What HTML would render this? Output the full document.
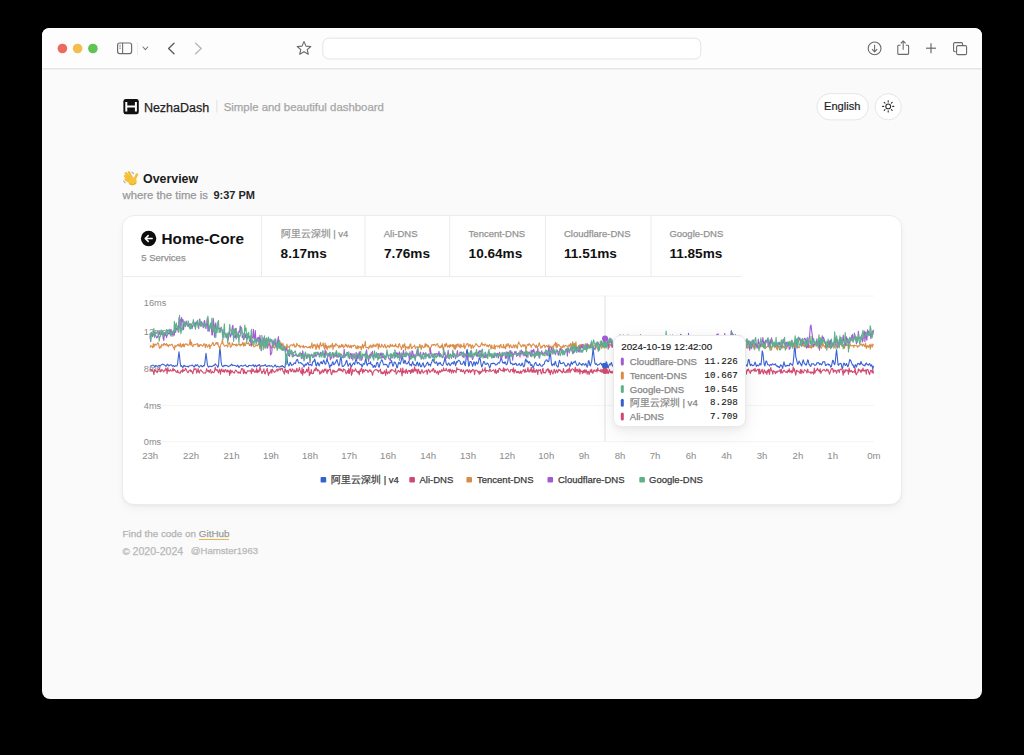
<!DOCTYPE html>
<html><head><meta charset="utf-8">
<style>
*{box-sizing:border-box;margin:0;padding:0}
html,body{width:1024px;height:755px;overflow:hidden;background:#000}
body{font-family:"Liberation Sans",sans-serif;position:relative}
.win{position:absolute;left:42px;top:28px;width:940px;height:671px;border-radius:8px;background:#fafafa;overflow:hidden}
.tb{position:absolute;left:0;top:0;width:940px;height:40px;background:#fdfdfd;border-bottom:1px solid #e4e4e4}
.abs{position:absolute;white-space:nowrap}
.t{position:absolute;white-space:nowrap;line-height:1;-webkit-text-stroke-width:0.25px}
.b{font-weight:bold;-webkit-text-stroke-width:0}
svg.full{position:absolute;left:0;top:0}
</style></head>
<body>
<div class="win"></div>
<svg class="full" width="1024" height="755" viewBox="0 0 1024 755">
  <!-- toolbar -->
  <path d="M42,68 V36 Q42,28 50,28 H974 Q982,28 982,36 V68 Z" fill="#fdfdfd"/>
  <line x1="42" y1="68.8" x2="982" y2="68.8" stroke="#e6e6e6" stroke-width="1.4"/>
  <circle cx="62.4" cy="48.5" r="4.8" fill="#ec6b5f"/>
  <circle cx="77.6" cy="48.5" r="4.8" fill="#f3bd4f"/>
  <circle cx="92.9" cy="48.5" r="4.8" fill="#5fc454"/>
  <!-- sidebar icon -->
  <rect x="117.6" y="43" width="14" height="10.6" rx="2" fill="none" stroke="#6e6e6e" stroke-width="1.2"/>
  <line x1="122.6" y1="43" x2="122.6" y2="53.6" stroke="#6e6e6e" stroke-width="1.1"/>
  <line x1="119.2" y1="45.2" x2="121" y2="45.2" stroke="#8a8a8a" stroke-width="0.7"/>
  <line x1="119.2" y1="46.8" x2="121" y2="46.8" stroke="#8a8a8a" stroke-width="0.7"/>
  <line x1="119.2" y1="48.4" x2="121" y2="48.4" stroke="#8a8a8a" stroke-width="0.7"/>
  <line x1="137.4" y1="42" x2="137.4" y2="55" stroke="#ececec" stroke-width="1"/>
  <polyline points="143,47 145.4,49.6 147.8,47" fill="none" stroke="#777" stroke-width="1.1" stroke-linecap="round" stroke-linejoin="round"/>
  <polyline points="174,43.2 168.6,48.5 174,53.8" fill="none" stroke="#5e5e5e" stroke-width="1.4" stroke-linecap="round" stroke-linejoin="round"/>
  <polyline points="195.6,43.2 201.2,48.5 195.6,53.8" fill="none" stroke="#b8b8b8" stroke-width="1.4" stroke-linecap="round" stroke-linejoin="round"/>
  <!-- star -->
  <path d="M304,41.6 L306,46.1 L310.8,46.5 L307.2,49.6 L308.3,54.2 L304,51.8 L299.7,54.2 L300.8,49.6 L297.2,46.5 L302,46.1 Z" fill="none" stroke="#666" stroke-width="1.1" stroke-linejoin="round"/>
  <!-- url bar -->
  <rect x="322.8" y="38.2" width="378" height="20.8" rx="6" fill="#fff" stroke="#e4e4e4" stroke-width="1"/>
  <!-- download -->
  <circle cx="874.6" cy="48.4" r="6.4" fill="none" stroke="#6a6a6a" stroke-width="1.1"/>
  <polyline points="874.6,44.8 874.6,51.6" stroke="#6a6a6a" stroke-width="1.1" fill="none"/>
  <polyline points="872,49.2 874.6,51.8 877.2,49.2" stroke="#6a6a6a" stroke-width="1.1" fill="none" stroke-linejoin="round"/>
  <!-- share -->
  <path d="M900.6,45.2 H898.6 Q897.8,45.2 897.8,46 V53.6 Q897.8,54.4 898.6,54.4 H907.8 Q908.6,54.4 908.6,53.6 V46 Q908.6,45.2 907.8,45.2 H905.8" fill="none" stroke="#6a6a6a" stroke-width="1.1"/>
  <line x1="903.2" y1="41.2" x2="903.2" y2="49.8" stroke="#6a6a6a" stroke-width="1.1"/>
  <polyline points="900.8,43.4 903.2,41 905.6,43.4" fill="none" stroke="#6a6a6a" stroke-width="1.1" stroke-linejoin="round"/>
  <!-- plus -->
  <line x1="926" y1="48.2" x2="936" y2="48.2" stroke="#6a6a6a" stroke-width="1.2"/>
  <line x1="931" y1="43.2" x2="931" y2="53.2" stroke="#6a6a6a" stroke-width="1.2"/>
  <!-- tabs -->
  <path d="M955.6,51.6 H954.8 Q953.6,51.6 953.6,50.4 V43.8 Q953.6,42.6 954.8,42.6 H961.4 Q962.6,42.6 962.6,43.8 V45" fill="none" stroke="#6a6a6a" stroke-width="1.1"/>
  <rect x="956.6" y="45.6" width="10" height="9" rx="1.4" fill="none" stroke="#6a6a6a" stroke-width="1.1"/>
</svg>

<!-- header -->
<svg class="full" width="1024" height="755" viewBox="0 0 1024 755">
  <rect x="123.4" y="98.9" width="15.4" height="15.4" rx="2.4" fill="#111"/>
  <path d="M126.3,102 V111.4 M135.9,102 V111.4 M126.3,106.6 H135.9" stroke="#fff" stroke-width="2" fill="none"/>
  <line x1="216.8" y1="100.3" x2="216.8" y2="112.6" stroke="#e2e2e2" stroke-width="1"/>
  <rect x="816.9" y="93.7" width="51.4" height="26.2" rx="13.1" fill="#fff" stroke="#e6e6e6" stroke-width="1"/>
  <circle cx="888.2" cy="106.8" r="13.1" fill="#fff" stroke="#e6e6e6" stroke-width="1"/>
  <g stroke="#2a2a2a" stroke-width="1.1" stroke-linecap="round">
    <circle cx="888.2" cy="106.4" r="2.4" fill="none"/>
    <line x1="888.2" y1="100.8" x2="888.2" y2="101.9"/>
    <line x1="888.2" y1="110.9" x2="888.2" y2="112"/>
    <line x1="882.6" y1="106.4" x2="883.7" y2="106.4"/>
    <line x1="892.7" y1="106.4" x2="893.8" y2="106.4"/>
    <line x1="884.2" y1="102.4" x2="885" y2="103.2"/>
    <line x1="891.4" y1="109.6" x2="892.2" y2="110.4"/>
    <line x1="884.2" y1="110.4" x2="885" y2="109.6"/>
    <line x1="891.4" y1="103.2" x2="892.2" y2="102.4"/>
  </g>
  <!-- wave emoji approximation -->
  <g stroke-linecap="round" fill="none">
    <path d="M131.9,172.2 L133.6,173.6 M123.6,181 L125.2,182.8" stroke="#a9a9a9" stroke-width="1.1"/>
    <g stroke="#f2bf3a" stroke-width="2.5">
      <line x1="132.2" y1="178.4" x2="128.9" y2="172.4"/>
      <line x1="131" y1="179.6" x2="125.9" y2="173.2"/>
      <line x1="130.6" y1="181" x2="125" y2="176"/>
      <line x1="130.8" y1="182.6" x2="125.6" y2="179.4"/>
      <line x1="134.2" y1="180" x2="136.9" y2="174.6"/>
    </g>
    <ellipse cx="132.6" cy="181.4" rx="4.1" ry="3.8" fill="#f4c440" stroke="none"/>
    <path d="M129.5,184 Q132.6,186.2 135.8,183.2" stroke="#e0a322" stroke-width="0.8"/>
  </g>
</svg>

<div class="t" style="left:143.9px;top:101.7px;font-size:12.5px;color:#1f1f1f;-webkit-text-stroke:0.25px #1f1f1f">NezhaDash</div>
<div class="t" style="left:223.7px;top:101.5px;font-size:11.4px;color:#a6a6a6">Simple and beautiful dashboard</div>
<div class="t" style="left:824px;top:101px;font-size:11.1px;color:#1f1f1f;-webkit-text-stroke:0.2px #1f1f1f">English</div>

<div class="t b" style="left:143px;top:172.8px;font-size:12.4px;color:#1a1a1a">Overview</div>
<div class="t" style="left:122.5px;top:189.5px;font-size:11.3px;color:#999">where the time is</div>
<div class="t b" style="left:213.4px;top:189.7px;font-size:11px;color:#262626">9:37 PM</div>

<!-- card -->
<div class="abs" style="left:122px;top:215px;width:780.2px;height:289.5px;border-radius:12px;background:#fff;border:1px solid #ececec;box-shadow:0 4px 8px -1px rgba(0,0,0,0.05),0 1px 2px rgba(0,0,0,0.035)"></div>

<svg class="full" width="1024" height="755" viewBox="0 0 1024 755">
  <line x1="123" y1="276.6" x2="742.3" y2="276.6" stroke="#ececec" stroke-width="1"/>
  <g stroke="#ececec" stroke-width="1">
    <line x1="261.5" y1="216" x2="261.5" y2="276.6"/>
    <line x1="365" y1="216" x2="365" y2="276.6"/>
    <line x1="449.7" y1="216" x2="449.7" y2="276.6"/>
    <line x1="545.5" y1="216" x2="545.5" y2="276.6"/>
    <line x1="651" y1="216" x2="651" y2="276.6"/>
  </g>
  <circle cx="148.6" cy="238.5" r="7.7" fill="#0d0d0d"/>
  <path d="M152.2,238.5 H145.4 M148.2,235.6 L145.2,238.5 L148.2,241.4" stroke="#fff" stroke-width="1.5" fill="none" stroke-linecap="round" stroke-linejoin="round"/>

  <!-- chart grid -->
  <g stroke="#f4f4f4" stroke-width="1"><line x1="149.5" x2="874" y1="296.0" y2="296.0"/>
<line x1="149.5" x2="874" y1="405.4" y2="405.4"/>
<line x1="149.5" x2="874" y1="441.7" y2="441.7"/></g>
  <g font-family="Liberation Sans" font-size="9.2" fill="#8a8a8a">
    <text x="143.8" y="305.6">16ms</text>
    <text x="143.8" y="335.4">12ms</text>
    <text x="143.8" y="372">8ms</text>
    <text x="143.8" y="408.9">4ms</text>
    <text x="143.8" y="445.3">0ms</text>
  </g>
  <g font-family="Liberation Sans" font-size="9.6" fill="#8a8a8a"><text x="150.2" y="459.4" text-anchor="middle">23h</text>
<text x="191.1" y="459.4" text-anchor="middle">22h</text>
<text x="231.5" y="459.4" text-anchor="middle">21h</text>
<text x="270.9" y="459.4" text-anchor="middle">19h</text>
<text x="310" y="459.4" text-anchor="middle">18h</text>
<text x="349.2" y="459.4" text-anchor="middle">17h</text>
<text x="388.1" y="459.4" text-anchor="middle">16h</text>
<text x="428.2" y="459.4" text-anchor="middle">14h</text>
<text x="468" y="459.4" text-anchor="middle">13h</text>
<text x="507.2" y="459.4" text-anchor="middle">12h</text>
<text x="546.3" y="459.4" text-anchor="middle">10h</text>
<text x="584" y="459.4" text-anchor="middle">9h</text>
<text x="620" y="459.4" text-anchor="middle">8h</text>
<text x="655.1" y="459.4" text-anchor="middle">7h</text>
<text x="691" y="459.4" text-anchor="middle">6h</text>
<text x="726.5" y="459.4" text-anchor="middle">4h</text>
<text x="762" y="459.4" text-anchor="middle">3h</text>
<text x="797.9" y="459.4" text-anchor="middle">2h</text>
<text x="832.7" y="459.4" text-anchor="middle">1h</text>
<text x="873.8" y="459.4" text-anchor="middle">0m</text></g>
  <line x1="605" y1="295.5" x2="605" y2="441.7" stroke="#e6e6e6" stroke-width="1.2"/>
  <path d="M150.0,366.0 150.7,366.2 151.3,366.0 152.0,365.3 152.6,365.2 153.3,365.2 153.9,365.5 154.6,366.8 155.3,366.5 155.9,365.3 156.6,365.9 157.2,366.5 157.9,366.3 158.6,365.5 159.2,365.4 159.9,366.4 160.5,365.6 161.2,364.9 161.8,364.6 162.5,364.1 163.2,364.2 163.8,364.8 164.5,365.1 165.1,365.4 165.8,366.3 166.5,366.0 167.1,364.4 167.8,364.2 168.4,365.7 169.1,366.0 169.7,365.2 170.4,364.8 171.1,365.1 171.7,365.0 172.4,366.1 173.0,366.1 173.7,365.5 174.4,366.5 175.0,366.2 175.7,365.6 176.3,366.0 177.0,366.0 177.6,363.7 178.3,357.0 179.0,351.9 179.6,356.6 180.3,363.6 180.9,366.4 181.6,365.7 182.3,366.8 182.9,367.6 183.6,365.7 184.2,365.3 184.9,366.4 185.5,366.2 186.2,366.3 186.9,366.4 187.5,366.4 188.2,367.2 188.8,366.4 189.5,365.7 190.2,365.8 190.8,365.8 191.5,365.4 192.1,365.0 192.8,365.5 193.4,366.4 194.1,367.2 194.8,365.9 195.4,364.8 196.1,365.9 196.7,365.2 197.4,364.6 198.1,365.7 198.7,366.7 199.4,367.1 200.0,366.2 200.7,365.6 201.3,365.6 202.0,366.7 202.7,366.6 203.3,365.6 204.0,365.9 204.6,364.9 205.3,359.3 206.0,353.3 206.6,357.8 207.3,364.1 207.9,366.3 208.6,367.1 209.2,366.4 209.9,366.4 210.6,366.2 211.2,366.4 211.9,366.6 212.5,366.3 213.2,365.6 213.9,365.4 214.5,365.2 215.2,363.8 215.8,364.6 216.5,365.3 217.1,365.6 217.8,367.4 218.5,365.8 219.1,357.8 219.8,347.8 220.4,351.5 221.1,361.9 221.8,365.4 222.4,366.3 223.1,366.7 223.7,365.7 224.4,365.3 225.0,366.0 225.7,365.4 226.4,365.5 227.0,365.7 227.7,366.1 228.3,366.7 229.0,366.2 229.7,365.7 230.3,365.6 231.0,364.8 231.6,364.2 232.3,365.6 232.9,365.0 233.6,365.3 234.3,365.5 234.9,365.4 235.6,365.9 236.2,366.0 236.9,366.5 237.6,365.2 238.2,365.8 238.9,367.6 239.5,366.8 240.2,365.8 240.8,365.7 241.5,365.3 242.2,366.1 242.8,366.3 243.5,365.7 244.1,365.5 244.8,365.2 245.5,364.9 246.1,366.0 246.8,366.6 247.4,366.5 248.1,366.6 248.7,365.6 249.4,365.4 250.1,365.5 250.7,365.7 251.4,365.8 252.0,365.6 252.7,365.0 253.4,364.7 254.0,366.5 254.7,366.6 255.3,365.0 256.0,365.6 256.6,367.0 257.3,366.0 258.0,365.0 258.6,365.5 259.3,364.6 259.9,365.4 260.6,366.4 261.3,366.0 261.9,365.6 262.6,365.8 263.2,366.0 263.9,365.6 264.5,365.3 265.2,364.6 265.9,366.1 266.5,366.5 267.2,365.9 267.8,366.2 268.5,365.7 269.2,365.4 269.8,366.1 270.5,366.2 271.1,365.7 271.8,365.9 272.4,366.7 273.1,367.1 273.8,366.6 274.4,365.9 275.1,364.9 275.7,365.7 276.4,367.1 277.1,366.5 277.7,366.2 278.4,366.8 279.0,366.9 279.7,367.0 280.3,366.3 281.0,366.6 281.7,366.0 282.3,365.6 283.0,366.7 283.6,366.6 284.3,367.5 285.0,367.4 285.6,362.0 286.3,354.1 286.9,356.9 287.6,363.0 288.2,364.4 288.9,366.0 289.6,364.6 290.2,362.2 290.9,363.6 291.5,365.4 292.2,364.9 292.9,364.9 293.5,364.3 294.2,362.8 294.8,363.3 295.5,363.6 296.1,361.1 296.8,359.7 297.5,359.4 298.1,361.5 298.8,363.1 299.4,362.8 300.1,362.8 300.8,362.5 301.4,363.8 302.1,363.9 302.7,364.1 303.4,365.2 304.0,367.0 304.7,365.2 305.4,364.0 306.0,365.3 306.7,364.4 307.3,363.0 308.0,362.5 308.7,364.8 309.3,365.2 310.0,364.5 310.6,364.3 311.3,365.4 311.9,365.7 312.6,362.2 313.3,361.4 313.9,361.7 314.6,359.0 315.2,360.5 315.9,365.4 316.6,366.0 317.2,363.3 317.9,362.3 318.5,364.7 319.2,365.8 319.8,364.1 320.5,362.4 321.2,361.6 321.8,363.5 322.5,363.8 323.1,361.4 323.8,360.1 324.5,362.6 325.1,364.0 325.8,364.1 326.4,361.0 327.1,358.0 327.7,361.8 328.4,362.6 329.1,364.9 329.7,367.9 330.4,365.6 331.0,364.8 331.7,365.7 332.4,362.1 333.0,361.9 333.7,364.7 334.3,364.5 335.0,363.4 335.6,362.4 336.3,360.7 337.0,359.6 337.6,362.4 338.3,364.1 338.9,365.9 339.6,364.1 340.3,359.0 340.9,356.3 341.6,361.0 342.2,366.5 342.9,366.5 343.5,366.2 344.2,365.3 344.9,364.7 345.5,363.5 346.2,360.9 346.8,360.4 347.5,364.1 348.2,366.3 348.8,365.0 349.5,363.8 350.1,363.2 350.8,365.6 351.4,366.8 352.1,365.1 352.8,364.2 353.4,362.9 354.1,363.1 354.7,364.6 355.4,361.2 356.1,357.8 356.7,360.8 357.4,363.8 358.0,362.8 358.7,362.5 359.3,363.3 360.0,364.5 360.7,364.6 361.3,364.3 362.0,366.9 362.6,365.9 363.3,363.5 364.0,364.0 364.6,364.2 365.3,360.3 365.9,357.9 366.6,363.4 367.2,365.6 367.9,363.9 368.6,363.1 369.2,363.7 369.9,363.5 370.5,361.8 371.2,364.7 371.9,364.9 372.5,364.7 373.2,367.5 373.8,366.5 374.5,365.4 375.1,367.4 375.8,366.5 376.5,363.6 377.1,362.3 377.8,363.0 378.4,366.2 379.1,367.3 379.8,364.5 380.4,362.2 381.1,361.2 381.7,359.7 382.4,360.5 383.0,363.2 383.7,364.9 384.4,364.5 385.0,364.1 385.7,364.7 386.3,364.6 387.0,365.0 387.7,367.2 388.3,367.3 389.0,365.2 389.6,362.6 390.3,363.0 390.9,362.7 391.6,360.6 392.3,363.9 392.9,366.3 393.6,365.1 394.2,362.3 394.9,362.1 395.6,363.3 396.2,364.5 396.9,367.9 397.5,367.4 398.2,363.8 398.8,362.2 399.5,363.1 400.2,364.2 400.8,362.1 401.5,359.6 402.1,356.4 402.8,358.1 403.5,363.2 404.1,363.3 404.8,360.2 405.4,361.0 406.1,363.9 406.7,363.8 407.4,363.6 408.1,362.6 408.7,361.3 409.4,363.7 410.0,365.2 410.7,364.5 411.4,365.9 412.0,363.6 412.7,361.6 413.3,363.8 414.0,365.2 414.6,364.5 415.3,365.3 416.0,365.9 416.6,363.3 417.3,362.0 417.9,364.4 418.6,366.0 419.3,362.8 419.9,363.9 420.6,366.8 421.2,366.7 421.9,365.6 422.5,363.7 423.2,362.9 423.9,366.1 424.5,367.2 425.2,366.1 425.8,365.6 426.5,363.9 427.2,362.8 427.8,362.1 428.5,365.2 429.1,364.2 429.8,364.3 430.4,366.1 431.1,363.6 431.8,362.0 432.4,360.1 433.1,359.0 433.7,361.3 434.4,362.5 435.1,363.2 435.7,363.0 436.4,361.8 437.0,363.0 437.7,365.5 438.3,363.8 439.0,362.8 439.7,363.8 440.3,362.6 441.0,364.4 441.6,364.9 442.3,365.6 443.0,365.2 443.6,363.1 444.3,361.0 444.9,357.3 445.6,360.2 446.2,363.8 446.9,364.9 447.6,365.1 448.2,363.2 448.9,363.1 449.5,364.4 450.2,365.6 450.9,364.6 451.5,363.4 452.2,362.5 452.8,363.3 453.5,364.0 454.1,361.2 454.8,362.4 455.5,365.7 456.1,364.0 456.8,361.5 457.4,362.1 458.1,360.7 458.8,360.2 459.4,360.9 460.1,361.6 460.7,364.2 461.4,364.3 462.0,364.1 462.7,363.9 463.4,362.0 464.0,361.1 464.7,364.5 465.3,365.7 466.0,359.5 466.7,350.1 467.3,349.6 468.0,359.4 468.6,366.1 469.3,365.5 469.9,361.6 470.6,361.6 471.3,361.9 471.9,363.8 472.6,366.3 473.2,364.3 473.9,361.9 474.6,362.5 475.2,365.7 475.9,362.9 476.5,361.9 477.2,363.8 477.8,363.9 478.5,361.8 479.2,357.8 479.8,358.2 480.5,360.2 481.1,364.7 481.8,367.0 482.5,365.0 483.1,363.1 483.8,361.4 484.4,361.9 485.1,364.0 485.7,364.4 486.4,364.3 487.1,363.1 487.7,363.2 488.4,364.4 489.0,365.9 489.7,368.0 490.4,366.4 491.0,363.5 491.7,363.6 492.3,363.8 493.0,363.0 493.6,363.6 494.3,363.3 495.0,364.0 495.6,365.1 496.3,364.7 496.9,364.6 497.6,363.5 498.3,362.6 498.9,363.1 499.6,362.9 500.2,360.9 500.9,358.6 501.5,358.0 502.2,361.4 502.9,362.9 503.5,362.3 504.2,363.5 504.8,361.9 505.5,362.3 506.2,364.8 506.8,364.5 507.5,363.2 508.1,359.3 508.8,352.6 509.4,354.5 510.1,361.2 510.8,363.8 511.4,363.3 512.1,363.4 512.7,364.9 513.4,364.5 514.1,363.9 514.7,364.6 515.4,363.3 516.0,363.2 516.7,365.3 517.3,365.1 518.0,365.2 518.7,364.2 519.3,363.5 520.0,364.9 520.6,365.7 521.3,365.2 522.0,363.1 522.6,363.4 523.3,366.4 523.9,366.8 524.6,365.4 525.2,360.6 525.9,358.9 526.6,362.0 527.2,360.8 527.9,362.1 528.5,363.3 529.2,361.5 529.9,362.4 530.5,365.2 531.2,365.5 531.8,364.4 532.5,366.7 533.1,368.1 533.8,366.1 534.5,364.1 535.1,362.9 535.8,362.4 536.4,364.2 537.1,365.4 537.8,365.0 538.4,365.7 539.1,364.7 539.7,363.6 540.4,365.2 541.0,365.9 541.7,366.3 542.4,366.1 543.0,364.6 543.7,364.6 544.3,363.8 545.0,361.2 545.7,360.9 546.3,359.8 547.0,360.0 547.6,361.2 548.3,361.7 548.9,360.9 549.6,354.7 550.3,352.0 550.9,358.2 551.6,364.6 552.2,365.8 552.9,364.3 553.6,363.8 554.2,365.3 554.9,362.4 555.5,361.4 556.2,364.9 556.8,365.8 557.5,367.0 558.2,366.8 558.8,363.0 559.5,360.2 560.1,362.3 560.8,363.8 561.5,363.5 562.1,363.5 562.8,362.9 563.4,362.4 564.1,363.1 564.7,364.5 565.4,366.1 566.1,365.9 566.7,366.0 567.4,365.0 568.0,363.3 568.7,364.1 569.4,365.1 570.0,366.4 570.7,364.0 571.3,361.9 572.0,363.9 572.6,364.2 573.3,362.1 574.0,362.7 574.6,361.9 575.3,361.0 575.9,362.8 576.6,364.9 577.3,365.3 577.9,365.4 578.6,364.7 579.2,362.6 579.9,363.8 580.5,364.0 581.2,364.5 581.9,365.5 582.5,363.8 583.2,363.6 583.8,364.2 584.5,365.1 585.2,364.8 585.8,363.4 586.5,365.2 587.1,367.2 587.8,365.4 588.4,360.9 589.1,360.8 589.8,365.2 590.4,365.8 591.1,363.2 591.7,361.4 592.4,354.9 593.1,348.2 593.7,353.4 594.4,359.7 595.0,363.6 595.7,364.4 596.3,363.6 597.0,364.6 597.7,365.4 598.3,364.8 599.0,364.7 599.6,364.1 600.3,363.2 601.0,363.1 601.6,364.6 602.3,365.7 602.9,363.7 603.6,363.4 604.2,363.9 604.9,365.0 605.6,363.6 606.2,361.8 606.9,363.0 607.5,366.8 608.2,368.1 608.9,365.2 609.5,364.2 610.2,364.9 610.8,363.6 611.5,362.5 612.1,365.1 612.8,366.3 613.5,365.7 614.1,364.7 614.8,366.0 615.4,368.3 616.1,366.9 616.8,365.8 617.4,363.1 618.1,363.1 618.7,365.0 619.4,364.8 620.0,365.7 620.7,364.9 621.4,362.4 622.0,363.2 622.7,364.2 623.3,363.4 624.0,363.6 624.7,363.6 625.3,361.8 626.0,363.4 626.6,366.1 627.3,366.0 627.9,367.7 628.6,366.6 629.3,362.7 629.9,361.8 630.6,362.4 631.2,362.8 631.9,364.1 632.6,362.6 633.2,362.8 633.9,363.4 634.5,363.3 635.2,364.8 635.8,364.1 636.5,364.2 637.2,363.9 637.8,363.4 638.5,362.2 639.1,362.8 639.8,366.4 640.5,368.5 641.1,368.0 641.8,366.7 642.4,364.6 643.1,365.4 643.7,366.0 644.4,364.5 645.1,364.2 645.7,364.4 646.4,364.2 647.0,364.1 647.7,363.4 648.4,363.1 649.0,366.6 649.7,366.9 650.3,364.3 651.0,364.9 651.6,365.9 652.3,364.2 653.0,363.2 653.6,365.3 654.3,365.8 654.9,365.0 655.6,366.3 656.3,365.5 656.9,364.0 657.6,364.2 658.2,365.6 658.9,364.1 659.5,361.9 660.2,363.4 660.9,364.7 661.5,365.9 662.2,366.7 662.8,364.4 663.5,363.8 664.2,365.1 664.8,363.6 665.5,364.5 666.1,364.2 666.8,361.6 667.4,362.1 668.1,362.7 668.8,362.4 669.4,364.3 670.1,365.3 670.7,366.6 671.4,366.0 672.1,362.9 672.7,362.3 673.4,362.9 674.0,362.5 674.7,363.8 675.3,364.4 676.0,362.0 676.7,363.3 677.3,365.2 678.0,364.9 678.6,365.1 679.3,365.4 680.0,365.3 680.6,365.9 681.3,366.3 681.9,365.5 682.6,365.5 683.2,363.6 683.9,363.0 684.6,364.2 685.2,364.6 685.9,363.5 686.5,364.9 687.2,366.4 687.9,363.5 688.5,361.7 689.2,362.6 689.8,364.3 690.5,363.8 691.1,364.0 691.8,364.1 692.5,364.6 693.1,364.5 693.8,363.9 694.4,365.6 695.1,368.3 695.8,366.3 696.4,363.2 697.1,363.4 697.7,364.6 698.4,364.3 699.0,363.0 699.7,364.2 700.4,363.7 701.0,362.7 701.7,363.2 702.3,362.1 703.0,361.1 703.7,362.8 704.3,364.4 705.0,364.7 705.6,362.7 706.3,362.4 706.9,365.0 707.6,366.1 708.3,365.2 708.9,363.7 709.6,364.4 710.2,364.8 710.9,362.9 711.6,362.7 712.2,365.4 712.9,366.4 713.5,366.1 714.2,365.4 714.8,365.2 715.5,365.1 716.2,363.9 716.8,367.1 717.5,368.0 718.1,365.0 718.8,364.1 719.5,365.0 720.1,366.3 720.8,365.5 721.4,362.5 722.1,362.7 722.7,364.5 723.4,364.9 724.1,366.2 724.7,366.4 725.4,365.9 726.0,364.4 726.7,364.5 727.4,367.7 728.0,367.6 728.7,365.8 729.3,365.1 730.0,366.7 730.6,365.6 731.3,363.7 732.0,365.1 732.6,366.0 733.3,365.1 733.9,364.6 734.6,364.8 735.3,364.6 735.9,364.7 736.6,363.5 737.2,363.6 737.9,365.6 738.5,364.7 739.2,363.5 739.9,365.2 740.5,364.3 741.2,363.9 741.8,363.9 742.5,364.8 743.2,368.2 743.8,369.1 744.5,366.6 745.1,365.3 745.8,365.6 746.4,365.0 747.1,366.2 747.8,363.2 748.4,359.5 749.1,359.7 749.7,363.1 750.4,365.7 751.1,364.2 751.7,364.4 752.4,365.8 753.0,365.6 753.7,365.3 754.3,364.7 755.0,362.1 755.7,363.5 756.3,366.4 757.0,365.6 757.6,365.0 758.3,365.9 759.0,365.4 759.6,363.6 760.3,363.9 760.9,365.1 761.6,359.3 762.2,350.8 762.9,353.1 763.6,359.3 764.2,364.6 764.9,365.9 765.5,362.8 766.2,360.9 766.9,361.8 767.5,364.4 768.2,364.8 768.8,364.7 769.5,365.9 770.1,364.9 770.8,364.5 771.5,365.1 772.1,364.2 772.8,363.8 773.4,364.4 774.1,364.9 774.8,364.3 775.4,363.8 776.1,365.5 776.7,366.1 777.4,365.9 778.0,366.9 778.7,366.6 779.4,367.7 780.0,366.3 780.7,364.8 781.3,365.3 782.0,366.4 782.7,368.4 783.3,364.6 784.0,361.9 784.6,364.5 785.3,366.3 785.9,366.4 786.6,365.5 787.3,365.2 787.9,365.9 788.6,365.4 789.2,365.8 789.9,363.6 790.6,363.2 791.2,364.5 791.9,364.8 792.5,365.5 793.2,362.6 793.8,356.7 794.5,346.2 795.2,348.1 795.8,356.8 796.5,359.3 797.1,361.9 797.8,364.5 798.5,363.0 799.1,361.0 799.8,362.2 800.4,363.6 801.1,365.1 801.7,365.8 802.4,362.9 803.1,359.8 803.7,361.2 804.4,363.8 805.0,363.9 805.7,365.0 806.4,365.0 807.0,362.6 807.7,359.8 808.3,360.5 809.0,364.3 809.6,364.7 810.3,366.3 811.0,366.2 811.6,363.7 812.3,364.0 812.9,363.8 813.6,363.7 814.3,364.9 814.9,365.4 815.6,365.0 816.2,364.7 816.9,362.8 817.5,362.9 818.2,362.5 818.9,363.1 819.5,364.6 820.2,363.5 820.8,364.0 821.5,365.0 822.2,363.8 822.8,361.8 823.5,362.1 824.1,361.8 824.8,361.9 825.4,365.5 826.1,365.4 826.8,364.5 827.4,364.2 828.1,363.9 828.7,364.9 829.4,364.5 830.1,365.4 830.7,367.2 831.4,366.6 832.0,363.6 832.7,360.2 833.3,360.6 834.0,363.5 834.7,364.8 835.3,361.9 836.0,353.8 836.6,349.7 837.3,356.7 838.0,364.7 838.6,365.4 839.3,363.8 839.9,363.9 840.6,363.3 841.2,363.7 841.9,367.5 842.6,368.5 843.2,365.0 843.9,363.0 844.5,363.7 845.2,365.5 845.9,365.1 846.5,363.5 847.2,365.1 847.8,366.7 848.5,365.3 849.1,362.3 849.8,359.5 850.5,360.4 851.1,361.4 851.8,363.4 852.4,365.1 853.1,364.8 853.8,367.3 854.4,367.9 855.1,365.0 855.7,364.7 856.4,367.0 857.0,365.4 857.7,363.3 858.4,363.9 859.0,363.3 859.7,364.8 860.3,364.1 861.0,361.5 861.7,363.6 862.3,364.5 863.0,364.9 863.6,365.4 864.3,365.0 864.9,365.9 865.6,364.0 866.3,362.9 866.9,364.3 867.6,364.4 868.2,365.3 868.9,364.3 869.6,363.5 870.2,365.1 870.9,366.1 871.5,364.7 872.2,366.3 872.8,369.2 873.5,365.8" fill="none" stroke="#3a63d2" stroke-width="1.1" stroke-linejoin="round"/>
<path d="M150.0,370.0 150.7,369.3 151.3,371.1 152.0,369.5 152.6,370.9 153.3,371.2 153.9,374.7 154.6,369.6 155.3,370.8 155.9,370.7 156.6,371.7 157.2,372.7 157.9,370.2 158.6,369.7 159.2,368.4 159.9,369.5 160.5,371.9 161.2,371.1 161.8,369.4 162.5,370.4 163.2,371.1 163.8,371.8 164.5,370.1 165.1,370.6 165.8,368.1 166.5,369.2 167.1,373.6 167.8,367.5 168.4,370.5 169.1,371.4 169.7,370.4 170.4,369.7 171.1,370.9 171.7,371.0 172.4,370.9 173.0,368.0 173.7,370.8 174.4,369.6 175.0,370.1 175.7,371.4 176.3,372.0 177.0,372.4 177.6,370.2 178.3,372.5 179.0,372.9 179.6,372.8 180.3,373.2 180.9,370.8 181.6,370.7 182.3,372.3 182.9,368.8 183.6,371.3 184.2,370.2 184.9,370.4 185.5,368.2 186.2,369.6 186.9,371.0 187.5,372.4 188.2,372.6 188.8,370.9 189.5,370.7 190.2,369.7 190.8,371.7 191.5,370.6 192.1,372.0 192.8,373.8 193.4,371.0 194.1,368.6 194.8,369.6 195.4,368.7 196.1,369.1 196.7,373.1 197.4,371.4 198.1,368.6 198.7,372.1 199.4,373.0 200.0,370.4 200.7,369.9 201.3,370.5 202.0,371.5 202.7,372.0 203.3,372.9 204.0,373.0 204.6,372.9 205.3,373.2 206.0,372.1 206.6,368.6 207.3,370.8 207.9,371.5 208.6,370.4 209.2,372.5 209.9,370.4 210.6,369.5 211.2,373.3 211.9,372.1 212.5,371.4 213.2,372.5 213.9,372.7 214.5,371.6 215.2,367.1 215.8,369.9 216.5,370.3 217.1,369.4 217.8,371.3 218.5,372.9 219.1,370.2 219.8,369.2 220.4,374.3 221.1,370.3 221.8,369.0 222.4,371.4 223.1,371.7 223.7,369.9 224.4,372.3 225.0,370.2 225.7,369.5 226.4,371.3 227.0,372.3 227.7,370.0 228.3,371.6 229.0,370.9 229.7,375.5 230.3,369.9 231.0,373.2 231.6,370.9 232.3,370.8 232.9,372.2 233.6,372.5 234.3,373.1 234.9,371.5 235.6,370.1 236.2,370.2 236.9,371.8 237.6,372.0 238.2,373.3 238.9,371.7 239.5,372.7 240.2,373.5 240.8,371.3 241.5,368.6 242.2,369.1 242.8,368.7 243.5,373.6 244.1,369.7 244.8,373.0 245.5,372.0 246.1,373.8 246.8,372.6 247.4,370.9 248.1,370.7 248.7,371.2 249.4,371.3 250.1,370.2 250.7,371.0 251.4,373.6 252.0,368.3 252.7,371.4 253.4,369.6 254.0,371.3 254.7,372.4 255.3,370.9 256.0,372.3 256.6,368.5 257.3,372.8 258.0,370.1 258.6,372.0 259.3,371.3 259.9,366.9 260.6,369.8 261.3,371.4 261.9,373.5 262.6,371.5 263.2,371.4 263.9,368.8 264.5,373.3 265.2,373.9 265.9,371.1 266.5,370.7 267.2,368.4 267.8,372.4 268.5,375.4 269.2,372.2 269.8,373.1 270.5,371.9 271.1,369.5 271.8,373.2 272.4,369.1 273.1,370.7 273.8,371.5 274.4,372.4 275.1,371.7 275.7,371.7 276.4,369.8 277.1,369.0 277.7,371.1 278.4,369.9 279.0,368.9 279.7,369.0 280.3,370.3 281.0,368.1 281.7,368.9 282.3,368.4 283.0,371.3 283.6,371.7 284.3,374.2 285.0,368.6 285.6,370.0 286.3,372.5 286.9,370.7 287.6,370.5 288.2,373.8 288.9,370.5 289.6,369.2 290.2,368.9 290.9,371.6 291.5,371.5 292.2,368.8 292.9,369.5 293.5,371.9 294.2,372.0 294.8,370.0 295.5,372.0 296.1,372.0 296.8,368.2 297.5,370.5 298.1,371.7 298.8,370.1 299.4,367.6 300.1,370.6 300.8,372.2 301.4,373.6 302.1,367.5 302.7,375.2 303.4,369.2 304.0,372.6 304.7,373.0 305.4,372.6 306.0,371.3 306.7,369.2 307.3,372.0 308.0,369.9 308.7,367.0 309.3,375.6 310.0,372.2 310.6,374.0 311.3,369.6 311.9,373.4 312.6,373.6 313.3,373.5 313.9,371.0 314.6,369.1 315.2,370.8 315.9,367.5 316.6,368.3 317.2,371.2 317.9,369.5 318.5,370.8 319.2,370.9 319.8,374.1 320.5,373.1 321.2,371.0 321.8,373.0 322.5,369.8 323.1,370.5 323.8,372.5 324.5,369.1 325.1,370.6 325.8,368.9 326.4,371.2 327.1,373.7 327.7,369.8 328.4,371.4 329.1,369.6 329.7,369.2 330.4,369.1 331.0,373.4 331.7,374.8 332.4,371.8 333.0,369.9 333.7,372.2 334.3,370.5 335.0,372.3 335.6,371.5 336.3,371.5 337.0,372.0 337.6,370.1 338.3,370.4 338.9,368.3 339.6,370.3 340.3,368.8 340.9,370.8 341.6,369.5 342.2,371.2 342.9,371.8 343.5,368.8 344.2,369.8 344.9,369.5 345.5,372.2 346.2,373.8 346.8,372.4 347.5,370.5 348.2,373.4 348.8,368.6 349.5,373.5 350.1,370.0 350.8,366.6 351.4,375.3 352.1,373.6 352.8,369.4 353.4,371.3 354.1,370.7 354.7,371.2 355.4,368.7 356.1,370.0 356.7,371.8 357.4,371.4 358.0,373.0 358.7,371.2 359.3,374.8 360.0,369.9 360.7,371.5 361.3,368.0 362.0,369.1 362.6,373.2 363.3,369.6 364.0,371.9 364.6,371.0 365.3,369.4 365.9,370.5 366.6,370.2 367.2,370.3 367.9,372.3 368.6,372.1 369.2,370.1 369.9,369.6 370.5,371.5 371.2,370.9 371.9,372.7 372.5,375.3 373.2,372.4 373.8,371.0 374.5,370.8 375.1,369.7 375.8,369.6 376.5,369.5 377.1,370.4 377.8,370.4 378.4,372.3 379.1,370.4 379.8,370.7 380.4,369.1 381.1,373.7 381.7,371.9 382.4,373.9 383.0,372.3 383.7,373.4 384.4,370.7 385.0,372.2 385.7,375.4 386.3,369.1 387.0,372.9 387.7,373.8 388.3,371.7 389.0,372.3 389.6,373.1 390.3,370.0 390.9,371.7 391.6,369.6 392.3,370.0 392.9,370.1 393.6,370.8 394.2,371.3 394.9,371.8 395.6,368.7 396.2,374.3 396.9,373.0 397.5,372.3 398.2,370.5 398.8,370.9 399.5,372.0 400.2,371.7 400.8,368.3 401.5,372.3 402.1,375.9 402.8,368.0 403.5,372.7 404.1,371.7 404.8,370.9 405.4,373.3 406.1,369.1 406.7,371.3 407.4,373.5 408.1,370.7 408.7,370.4 409.4,371.3 410.0,370.3 410.7,373.6 411.4,369.6 412.0,372.5 412.7,369.0 413.3,372.2 414.0,370.9 414.6,366.8 415.3,371.1 416.0,369.3 416.6,370.3 417.3,373.6 417.9,369.2 418.6,369.3 419.3,373.4 419.9,371.3 420.6,373.6 421.2,371.6 421.9,369.6 422.5,371.0 423.2,373.1 423.9,372.6 424.5,371.1 425.2,371.2 425.8,370.9 426.5,370.1 427.2,374.3 427.8,371.1 428.5,369.2 429.1,370.3 429.8,372.3 430.4,372.1 431.1,370.9 431.8,370.0 432.4,371.1 433.1,368.3 433.7,368.9 434.4,372.4 435.1,370.3 435.7,371.7 436.4,373.1 437.0,372.1 437.7,371.1 438.3,374.6 439.0,372.2 439.7,370.5 440.3,372.3 441.0,371.8 441.6,369.7 442.3,371.2 443.0,370.8 443.6,367.8 444.3,370.8 444.9,370.6 445.6,370.4 446.2,368.4 446.9,370.5 447.6,371.0 448.2,371.3 448.9,369.2 449.5,372.1 450.2,369.1 450.9,370.7 451.5,373.2 452.2,369.9 452.8,370.2 453.5,372.8 454.1,370.5 454.8,370.6 455.5,371.4 456.1,372.8 456.8,367.5 457.4,369.7 458.1,369.4 458.8,369.3 459.4,369.7 460.1,369.7 460.7,371.6 461.4,369.6 462.0,371.3 462.7,371.7 463.4,369.9 464.0,371.3 464.7,373.8 465.3,371.6 466.0,370.0 466.7,371.0 467.3,369.6 468.0,371.5 468.6,372.5 469.3,369.7 469.9,370.7 470.6,372.9 471.3,370.3 471.9,371.4 472.6,369.4 473.2,369.8 473.9,370.3 474.6,374.6 475.2,370.4 475.9,370.2 476.5,370.2 477.2,370.8 477.8,372.1 478.5,371.4 479.2,374.4 479.8,371.4 480.5,373.4 481.1,371.5 481.8,372.1 482.5,368.8 483.1,370.9 483.8,371.0 484.4,370.7 485.1,367.6 485.7,372.5 486.4,370.5 487.1,370.4 487.7,370.7 488.4,370.7 489.0,371.7 489.7,369.1 490.4,369.6 491.0,371.6 491.7,371.3 492.3,370.5 493.0,370.2 493.6,369.8 494.3,371.0 495.0,373.0 495.6,369.4 496.3,373.5 496.9,372.4 497.6,370.4 498.3,372.3 498.9,368.8 499.6,368.3 500.2,369.0 500.9,370.4 501.5,370.6 502.2,370.3 502.9,371.3 503.5,367.7 504.2,371.9 504.8,368.8 505.5,370.0 506.2,370.4 506.8,369.2 507.5,368.9 508.1,369.5 508.8,371.1 509.4,372.0 510.1,372.0 510.8,369.5 511.4,369.8 512.1,369.6 512.7,371.8 513.4,367.8 514.1,373.1 514.7,370.3 515.4,369.8 516.0,371.6 516.7,372.8 517.3,371.6 518.0,372.8 518.7,371.3 519.3,373.1 520.0,373.1 520.6,370.9 521.3,373.4 522.0,371.4 522.6,371.2 523.3,369.6 523.9,370.6 524.6,372.3 525.2,369.0 525.9,372.1 526.6,371.7 527.2,371.5 527.9,367.6 528.5,370.9 529.2,372.1 529.9,369.9 530.5,371.2 531.2,367.3 531.8,372.2 532.5,370.0 533.1,372.5 533.8,368.2 534.5,372.2 535.1,370.7 535.8,372.4 536.4,369.6 537.1,370.1 537.8,374.7 538.4,369.8 539.1,370.0 539.7,370.7 540.4,369.5 541.0,373.0 541.7,373.9 542.4,370.0 543.0,368.3 543.7,373.0 544.3,372.9 545.0,372.4 545.7,373.0 546.3,369.7 547.0,370.8 547.6,368.9 548.3,368.8 548.9,372.7 549.6,370.0 550.3,374.8 550.9,371.2 551.6,370.1 552.2,372.4 552.9,374.0 553.6,371.9 554.2,369.2 554.9,371.7 555.5,373.3 556.2,370.3 556.8,369.9 557.5,372.7 558.2,371.3 558.8,369.3 559.5,370.5 560.1,369.9 560.8,371.6 561.5,371.3 562.1,373.0 562.8,372.2 563.4,368.6 564.1,371.8 564.7,372.5 565.4,371.8 566.1,372.8 566.7,370.2 567.4,369.6 568.0,372.6 568.7,369.4 569.4,367.7 570.0,372.8 570.7,370.0 571.3,370.6 572.0,368.9 572.6,369.0 573.3,369.3 574.0,370.5 574.6,371.7 575.3,367.4 575.9,372.3 576.6,369.2 577.3,369.4 577.9,372.2 578.6,371.0 579.2,368.7 579.9,374.1 580.5,369.7 581.2,371.5 581.9,371.4 582.5,373.4 583.2,370.4 583.8,372.7 584.5,369.9 585.2,372.9 585.8,369.9 586.5,370.5 587.1,374.2 587.8,371.6 588.4,371.3 589.1,374.7 589.8,371.7 590.4,369.8 591.1,372.3 591.7,369.2 592.4,372.9 593.1,373.1 593.7,370.2 594.4,370.1 595.0,371.4 595.7,371.1 596.3,369.6 597.0,372.0 597.7,367.9 598.3,370.4 599.0,370.5 599.6,370.7 600.3,371.6 601.0,369.2 601.6,372.1 602.3,370.8 602.9,370.1 603.6,368.9 604.2,369.2 604.9,371.7 605.6,369.6 606.2,371.2 606.9,372.8 607.5,372.8 608.2,373.6 608.9,370.7 609.5,369.4 610.2,372.8 610.8,371.6 611.5,372.9 612.1,371.1 612.8,373.0 613.5,372.5 614.1,372.3 614.8,371.9 615.4,371.8 616.1,371.5 616.8,371.5 617.4,372.7 618.1,370.3 618.7,373.9 619.4,371.0 620.0,372.7 620.7,371.0 621.4,370.7 622.0,374.4 622.7,370.6 623.3,369.1 624.0,370.0 624.7,370.6 625.3,374.6 626.0,371.5 626.6,372.6 627.3,369.5 627.9,371.7 628.6,372.2 629.3,374.0 629.9,370.0 630.6,372.1 631.2,371.6 631.9,369.5 632.6,371.1 633.2,370.7 633.9,367.4 634.5,372.1 635.2,372.0 635.8,370.4 636.5,369.0 637.2,373.5 637.8,371.6 638.5,372.8 639.1,373.4 639.8,370.3 640.5,372.4 641.1,370.8 641.8,371.0 642.4,371.0 643.1,371.1 643.7,372.9 644.4,371.3 645.1,370.9 645.7,370.7 646.4,371.7 647.0,369.7 647.7,370.3 648.4,371.1 649.0,370.2 649.7,370.9 650.3,370.2 651.0,374.3 651.6,373.3 652.3,371.9 653.0,371.1 653.6,374.6 654.3,371.7 654.9,371.0 655.6,371.6 656.3,371.6 656.9,373.4 657.6,371.1 658.2,374.5 658.9,369.7 659.5,372.3 660.2,369.5 660.9,374.0 661.5,370.6 662.2,371.0 662.8,372.6 663.5,373.2 664.2,369.4 664.8,370.6 665.5,368.9 666.1,371.4 666.8,371.0 667.4,370.6 668.1,370.0 668.8,370.5 669.4,369.9 670.1,372.0 670.7,373.6 671.4,368.1 672.1,371.0 672.7,370.5 673.4,371.9 674.0,369.6 674.7,370.9 675.3,369.5 676.0,372.3 676.7,371.3 677.3,370.9 678.0,371.7 678.6,370.8 679.3,368.7 680.0,372.1 680.6,371.6 681.3,370.9 681.9,372.7 682.6,373.1 683.2,369.4 683.9,369.9 684.6,373.6 685.2,373.4 685.9,370.0 686.5,369.3 687.2,370.1 687.9,370.4 688.5,368.6 689.2,371.2 689.8,369.1 690.5,369.2 691.1,372.6 691.8,370.1 692.5,371.0 693.1,372.2 693.8,372.5 694.4,370.6 695.1,371.2 695.8,369.8 696.4,373.9 697.1,372.2 697.7,369.4 698.4,371.2 699.0,372.3 699.7,371.9 700.4,374.1 701.0,373.3 701.7,370.3 702.3,371.0 703.0,369.1 703.7,371.6 704.3,371.4 705.0,375.5 705.6,371.3 706.3,367.8 706.9,370.1 707.6,371.3 708.3,369.1 708.9,369.8 709.6,370.6 710.2,371.7 710.9,370.9 711.6,369.7 712.2,372.4 712.9,370.3 713.5,370.4 714.2,368.9 714.8,369.9 715.5,372.2 716.2,368.6 716.8,371.0 717.5,372.3 718.1,370.6 718.8,371.5 719.5,369.4 720.1,373.3 720.8,372.9 721.4,371.5 722.1,368.4 722.7,369.5 723.4,372.7 724.1,373.9 724.7,371.6 725.4,373.2 726.0,370.2 726.7,370.9 727.4,371.2 728.0,371.8 728.7,368.7 729.3,372.7 730.0,373.3 730.6,369.3 731.3,369.0 732.0,371.7 732.6,370.1 733.3,367.4 733.9,372.5 734.6,371.4 735.3,370.4 735.9,374.5 736.6,371.4 737.2,370.0 737.9,371.3 738.5,369.5 739.2,369.9 739.9,371.8 740.5,370.3 741.2,370.4 741.8,373.8 742.5,372.5 743.2,372.4 743.8,372.0 744.5,371.9 745.1,373.5 745.8,371.1 746.4,374.1 747.1,369.6 747.8,370.8 748.4,369.0 749.1,370.6 749.7,372.0 750.4,373.5 751.1,370.1 751.7,371.2 752.4,370.6 753.0,370.0 753.7,369.3 754.3,371.3 755.0,368.4 755.7,371.3 756.3,371.2 757.0,370.1 757.6,369.6 758.3,369.0 759.0,374.2 759.6,369.0 760.3,373.7 760.9,372.1 761.6,370.6 762.2,369.3 762.9,372.8 763.6,373.9 764.2,369.7 764.9,370.7 765.5,372.9 766.2,371.7 766.9,374.4 767.5,370.3 768.2,372.0 768.8,369.2 769.5,374.5 770.1,370.0 770.8,367.6 771.5,371.0 772.1,370.9 772.8,374.2 773.4,370.6 774.1,371.2 774.8,372.1 775.4,373.7 776.1,371.1 776.7,372.8 777.4,372.0 778.0,370.7 778.7,371.3 779.4,371.2 780.0,369.7 780.7,373.1 781.3,369.0 782.0,373.0 782.7,372.7 783.3,371.0 784.0,370.0 784.6,370.8 785.3,371.9 785.9,372.4 786.6,371.6 787.3,372.8 787.9,370.3 788.6,371.6 789.2,368.7 789.9,372.4 790.6,371.4 791.2,370.5 791.9,373.0 792.5,372.3 793.2,366.7 793.8,371.2 794.5,368.9 795.2,372.9 795.8,375.2 796.5,370.3 797.1,371.3 797.8,370.8 798.5,371.7 799.1,372.2 799.8,373.2 800.4,369.6 801.1,373.7 801.7,369.7 802.4,371.6 803.1,373.0 803.7,372.3 804.4,369.7 805.0,370.1 805.7,370.4 806.4,371.1 807.0,373.0 807.7,369.1 808.3,371.9 809.0,372.2 809.6,372.1 810.3,371.9 811.0,373.6 811.6,372.0 812.3,372.6 812.9,372.1 813.6,374.1 814.3,368.1 814.9,373.2 815.6,370.8 816.2,370.7 816.9,369.6 817.5,368.2 818.2,370.6 818.9,370.1 819.5,372.0 820.2,368.8 820.8,373.5 821.5,371.6 822.2,370.8 822.8,370.1 823.5,369.9 824.1,369.4 824.8,370.3 825.4,371.2 826.1,370.9 826.8,368.9 827.4,370.8 828.1,369.8 828.7,371.4 829.4,374.2 830.1,372.2 830.7,370.7 831.4,368.6 832.0,368.9 832.7,368.5 833.3,372.4 834.0,370.0 834.7,371.3 835.3,370.2 836.0,371.3 836.6,373.4 837.3,370.1 838.0,370.6 838.6,369.9 839.3,372.6 839.9,369.5 840.6,369.4 841.2,369.0 841.9,368.9 842.6,371.9 843.2,375.3 843.9,369.6 844.5,372.7 845.2,371.6 845.9,369.4 846.5,370.7 847.2,370.8 847.8,370.1 848.5,374.3 849.1,368.1 849.8,371.8 850.5,371.7 851.1,370.3 851.8,371.4 852.4,372.6 853.1,371.4 853.8,371.9 854.4,372.3 855.1,367.9 855.7,373.6 856.4,374.8 857.0,372.8 857.7,372.8 858.4,368.9 859.0,371.0 859.7,369.9 860.3,370.3 861.0,372.7 861.7,369.9 862.3,371.0 863.0,368.1 863.6,370.9 864.3,371.3 864.9,370.1 865.6,370.0 866.3,374.2 866.9,369.3 867.6,369.5 868.2,369.9 868.9,373.1 869.6,374.6 870.2,371.7 870.9,370.1 871.5,370.5 872.2,372.9 872.8,369.7 873.5,373.5" fill="none" stroke="#d24a72" stroke-width="1.1" stroke-linejoin="round"/>
<path d="M150.0,347.6 150.7,345.4 151.3,346.3 152.0,346.5 152.6,347.8 153.3,343.6 153.9,347.2 154.6,344.7 155.3,344.0 155.9,345.4 156.6,344.9 157.2,343.7 157.9,342.7 158.6,343.7 159.2,347.6 159.9,348.4 160.5,346.3 161.2,347.1 161.8,344.4 162.5,345.1 163.2,345.7 163.8,343.5 164.5,343.6 165.1,345.3 165.8,344.7 166.5,343.5 167.1,345.8 167.8,344.8 168.4,346.8 169.1,345.2 169.7,344.7 170.4,345.4 171.1,344.9 171.7,344.1 172.4,344.6 173.0,346.9 173.7,347.6 174.4,349.7 175.0,345.4 175.7,346.9 176.3,345.8 177.0,345.9 177.6,344.5 178.3,344.3 179.0,346.4 179.6,345.4 180.3,343.2 180.9,347.2 181.6,346.7 182.3,344.2 182.9,346.4 183.6,343.9 184.2,346.9 184.9,344.7 185.5,343.8 186.2,344.4 186.9,343.8 187.5,345.3 188.2,345.3 188.8,345.1 189.5,344.1 190.2,339.2 190.8,345.2 191.5,342.0 192.1,345.4 192.8,346.8 193.4,345.4 194.1,344.4 194.8,344.7 195.4,344.8 196.1,344.1 196.7,344.0 197.4,343.5 198.1,346.9 198.7,344.9 199.4,346.5 200.0,344.5 200.7,345.1 201.3,344.7 202.0,345.7 202.7,346.3 203.3,345.3 204.0,343.8 204.6,343.7 205.3,347.6 206.0,344.5 206.6,344.4 207.3,347.2 207.9,346.6 208.6,345.7 209.2,344.2 209.9,348.6 210.6,345.5 211.2,345.7 211.9,344.6 212.5,342.6 213.2,342.7 213.9,345.5 214.5,345.5 215.2,344.5 215.8,343.0 216.5,342.5 217.1,344.3 217.8,342.5 218.5,346.3 219.1,346.7 219.8,349.3 220.4,346.2 221.1,343.9 221.8,343.4 222.4,339.3 223.1,343.8 223.7,344.5 224.4,346.3 225.0,345.8 225.7,345.7 226.4,345.1 227.0,345.8 227.7,347.1 228.3,343.0 229.0,344.0 229.7,342.5 230.3,347.3 231.0,346.8 231.6,345.9 232.3,342.8 232.9,345.0 233.6,344.3 234.3,344.8 234.9,344.4 235.6,345.5 236.2,344.1 236.9,346.1 237.6,345.1 238.2,344.2 238.9,344.5 239.5,344.0 240.2,346.0 240.8,344.2 241.5,345.1 242.2,344.0 242.8,342.3 243.5,346.1 244.1,342.9 244.8,345.7 245.5,345.3 246.1,342.0 246.8,343.1 247.4,343.8 248.1,343.3 248.7,342.7 249.4,345.8 250.1,344.2 250.7,345.2 251.4,344.0 252.0,345.2 252.7,343.7 253.4,345.3 254.0,347.0 254.7,346.8 255.3,346.0 256.0,344.4 256.6,345.7 257.3,345.6 258.0,344.5 258.6,343.7 259.3,345.8 259.9,349.0 260.6,344.5 261.3,345.6 261.9,345.7 262.6,341.0 263.2,345.3 263.9,344.0 264.5,347.4 265.2,344.8 265.9,344.0 266.5,344.9 267.2,345.6 267.8,344.4 268.5,345.3 269.2,343.2 269.8,345.0 270.5,346.7 271.1,348.6 271.8,346.6 272.4,345.9 273.1,347.4 273.8,347.2 274.4,348.2 275.1,347.3 275.7,345.4 276.4,346.1 277.1,346.0 277.7,346.2 278.4,346.1 279.0,344.5 279.7,342.4 280.3,344.7 281.0,342.6 281.7,346.0 282.3,345.9 283.0,343.2 283.6,347.0 284.3,347.4 285.0,346.2 285.6,348.7 286.3,349.0 286.9,344.1 287.6,347.8 288.2,346.8 288.9,346.8 289.6,347.7 290.2,345.0 290.9,345.3 291.5,344.9 292.2,345.0 292.9,346.0 293.5,343.9 294.2,344.5 294.8,347.1 295.5,346.1 296.1,346.8 296.8,343.2 297.5,344.9 298.1,345.3 298.8,346.2 299.4,345.3 300.1,347.7 300.8,346.1 301.4,346.2 302.1,346.2 302.7,347.3 303.4,345.4 304.0,348.0 304.7,346.9 305.4,346.4 306.0,346.3 306.7,347.0 307.3,347.8 308.0,347.7 308.7,346.8 309.3,347.6 310.0,346.4 310.6,348.2 311.3,346.1 311.9,342.9 312.6,348.3 313.3,346.4 313.9,344.3 314.6,345.9 315.2,344.8 315.9,349.5 316.6,347.0 317.2,343.7 317.9,347.1 318.5,345.5 319.2,349.2 319.8,344.5 320.5,342.6 321.2,346.3 321.8,345.6 322.5,345.5 323.1,342.8 323.8,346.9 324.5,348.9 325.1,343.1 325.8,348.0 326.4,345.3 327.1,349.9 327.7,346.9 328.4,345.9 329.1,347.9 329.7,347.0 330.4,345.2 331.0,347.3 331.7,345.4 332.4,343.3 333.0,349.4 333.7,345.6 334.3,345.2 335.0,346.7 335.6,343.7 336.3,344.0 337.0,345.4 337.6,345.3 338.3,346.3 338.9,348.0 339.6,345.4 340.3,347.0 340.9,347.1 341.6,344.4 342.2,346.5 342.9,344.7 343.5,347.9 344.2,346.9 344.9,346.2 345.5,344.0 346.2,346.3 346.8,344.9 347.5,347.3 348.2,346.0 348.8,344.9 349.5,347.6 350.1,347.3 350.8,345.2 351.4,348.0 352.1,345.7 352.8,345.7 353.4,346.4 354.1,345.0 354.7,345.4 355.4,345.9 356.1,348.6 356.7,348.6 357.4,345.7 358.0,348.7 358.7,346.1 359.3,346.8 360.0,347.6 360.7,346.6 361.3,350.0 362.0,346.5 362.6,344.2 363.3,348.2 364.0,345.5 364.6,345.7 365.3,341.4 365.9,347.7 366.6,347.5 367.2,347.4 367.9,347.7 368.6,348.9 369.2,346.1 369.9,347.6 370.5,345.0 371.2,345.6 371.9,347.8 372.5,346.8 373.2,344.0 373.8,346.7 374.5,345.8 375.1,344.8 375.8,346.8 376.5,345.5 377.1,343.6 377.8,344.4 378.4,349.0 379.1,343.7 379.8,346.5 380.4,347.1 381.1,347.2 381.7,344.2 382.4,345.6 383.0,346.4 383.7,347.4 384.4,345.1 385.0,344.3 385.7,347.7 386.3,347.9 387.0,346.7 387.7,345.2 388.3,346.8 389.0,346.3 389.6,347.5 390.3,344.1 390.9,346.3 391.6,345.9 392.3,344.4 392.9,346.5 393.6,346.2 394.2,345.5 394.9,346.8 395.6,343.9 396.2,346.0 396.9,346.8 397.5,346.6 398.2,347.8 398.8,344.2 399.5,343.7 400.2,346.5 400.8,346.9 401.5,349.5 402.1,347.1 402.8,344.7 403.5,347.4 404.1,344.8 404.8,343.7 405.4,350.3 406.1,346.6 406.7,347.3 407.4,347.0 408.1,349.0 408.7,346.6 409.4,348.1 410.0,344.5 410.7,343.9 411.4,348.4 412.0,348.5 412.7,346.9 413.3,346.5 414.0,346.4 414.6,345.0 415.3,348.6 416.0,347.2 416.6,346.9 417.3,346.7 417.9,347.8 418.6,346.9 419.3,347.3 419.9,344.2 420.6,346.9 421.2,349.6 421.9,345.3 422.5,345.9 423.2,347.5 423.9,347.6 424.5,347.1 425.2,343.5 425.8,346.9 426.5,344.2 427.2,344.8 427.8,347.0 428.5,345.6 429.1,347.4 429.8,351.1 430.4,347.3 431.1,347.3 431.8,344.7 432.4,345.1 433.1,344.4 433.7,345.2 434.4,344.4 435.1,345.0 435.7,345.8 436.4,344.5 437.0,343.8 437.7,343.9 438.3,346.8 439.0,346.2 439.7,347.7 440.3,347.8 441.0,345.6 441.6,347.2 442.3,343.8 443.0,349.7 443.6,348.0 444.3,345.8 444.9,344.2 445.6,346.7 446.2,343.1 446.9,344.8 447.6,347.3 448.2,346.2 448.9,345.3 449.5,347.6 450.2,344.4 450.9,346.5 451.5,345.3 452.2,344.7 452.8,346.8 453.5,344.5 454.1,349.1 454.8,345.2 455.5,349.3 456.1,344.3 456.8,347.1 457.4,344.2 458.1,343.9 458.8,346.3 459.4,347.2 460.1,344.0 460.7,348.0 461.4,344.8 462.0,346.3 462.7,346.7 463.4,347.0 464.0,343.2 464.7,348.7 465.3,347.0 466.0,345.4 466.7,344.4 467.3,343.4 468.0,343.9 468.6,346.9 469.3,345.5 469.9,344.3 470.6,345.2 471.3,348.6 471.9,345.5 472.6,345.1 473.2,348.2 473.9,346.8 474.6,346.1 475.2,345.1 475.9,343.6 476.5,344.2 477.2,345.3 477.8,345.7 478.5,346.6 479.2,347.0 479.8,346.4 480.5,346.4 481.1,344.5 481.8,342.6 482.5,345.2 483.1,344.5 483.8,345.0 484.4,345.6 485.1,344.1 485.7,344.3 486.4,345.9 487.1,346.3 487.7,345.0 488.4,346.9 489.0,345.7 489.7,344.4 490.4,346.1 491.0,349.1 491.7,345.0 492.3,347.9 493.0,348.3 493.6,348.5 494.3,344.7 495.0,349.3 495.6,346.2 496.3,345.7 496.9,345.7 497.6,347.0 498.3,346.1 498.9,345.8 499.6,348.1 500.2,344.9 500.9,344.4 501.5,347.3 502.2,347.2 502.9,347.8 503.5,344.3 504.2,347.8 504.8,346.8 505.5,348.9 506.2,344.1 506.8,346.4 507.5,345.6 508.1,343.5 508.8,344.9 509.4,347.9 510.1,345.3 510.8,344.9 511.4,347.4 512.1,347.6 512.7,347.6 513.4,344.8 514.1,346.0 514.7,347.7 515.4,345.0 516.0,344.8 516.7,347.4 517.3,348.5 518.0,344.2 518.7,341.9 519.3,343.7 520.0,344.4 520.6,345.8 521.3,347.0 522.0,345.8 522.6,344.9 523.3,346.3 523.9,344.5 524.6,346.0 525.2,345.0 525.9,350.3 526.6,347.3 527.2,344.7 527.9,344.4 528.5,345.3 529.2,343.4 529.9,344.9 530.5,344.9 531.2,347.4 531.8,345.4 532.5,344.8 533.1,343.9 533.8,344.2 534.5,345.9 535.1,345.7 535.8,347.8 536.4,345.0 537.1,347.7 537.8,346.4 538.4,346.0 539.1,342.8 539.7,344.0 540.4,347.2 541.0,348.3 541.7,346.4 542.4,347.2 543.0,345.4 543.7,345.4 544.3,345.0 545.0,347.6 545.7,346.6 546.3,345.6 547.0,345.5 547.6,346.9 548.3,346.5 548.9,344.7 549.6,348.8 550.3,346.4 550.9,346.0 551.6,348.4 552.2,347.7 552.9,345.9 553.6,346.9 554.2,344.3 554.9,345.0 555.5,342.4 556.2,348.0 556.8,343.0 557.5,347.1 558.2,344.7 558.8,344.4 559.5,345.7 560.1,346.4 560.8,347.0 561.5,348.8 562.1,346.6 562.8,347.4 563.4,345.1 564.1,347.2 564.7,346.3 565.4,345.3 566.1,345.9 566.7,345.9 567.4,346.3 568.0,346.7 568.7,345.2 569.4,344.8 570.0,347.2 570.7,343.3 571.3,345.0 572.0,348.5 572.6,341.7 573.3,344.9 574.0,347.1 574.6,343.4 575.3,350.2 575.9,341.9 576.6,348.3 577.3,348.5 577.9,347.5 578.6,345.6 579.2,346.6 579.9,344.6 580.5,347.3 581.2,344.2 581.9,345.6 582.5,347.6 583.2,344.2 583.8,345.4 584.5,346.3 585.2,343.9 585.8,347.9 586.5,346.5 587.1,343.6 587.8,345.9 588.4,344.8 589.1,344.9 589.8,346.1 590.4,344.9 591.1,347.5 591.7,344.9 592.4,347.6 593.1,345.9 593.7,347.4 594.4,345.1 595.0,345.2 595.7,344.1 596.3,346.9 597.0,347.5 597.7,349.4 598.3,348.1 599.0,346.4 599.6,345.7 600.3,346.6 601.0,345.9 601.6,348.3 602.3,347.5 602.9,344.6 603.6,344.9 604.2,348.2 604.9,346.5 605.6,345.6 606.2,347.9 606.9,345.4 607.5,345.5 608.2,345.2 608.9,342.8 609.5,347.4 610.2,344.0 610.8,345.1 611.5,344.8 612.1,347.1 612.8,345.9 613.5,346.0 614.1,343.3 614.8,345.8 615.4,343.6 616.1,346.5 616.8,346.6 617.4,345.9 618.1,349.2 618.7,346.8 619.4,346.9 620.0,346.2 620.7,345.7 621.4,347.5 622.0,347.7 622.7,343.9 623.3,347.7 624.0,346.8 624.7,347.5 625.3,346.7 626.0,344.0 626.6,344.1 627.3,348.9 627.9,346.4 628.6,343.7 629.3,346.5 629.9,345.4 630.6,343.0 631.2,342.3 631.9,343.4 632.6,346.4 633.2,345.9 633.9,345.6 634.5,346.4 635.2,346.9 635.8,342.6 636.5,345.5 637.2,344.6 637.8,344.0 638.5,345.1 639.1,345.8 639.8,345.5 640.5,343.6 641.1,345.2 641.8,349.2 642.4,344.3 643.1,343.3 643.7,346.4 644.4,346.9 645.1,346.7 645.7,344.2 646.4,347.6 647.0,344.7 647.7,344.1 648.4,345.0 649.0,345.8 649.7,347.1 650.3,347.0 651.0,345.9 651.6,347.4 652.3,346.1 653.0,347.4 653.6,343.7 654.3,343.4 654.9,347.2 655.6,343.7 656.3,345.5 656.9,345.8 657.6,345.2 658.2,345.2 658.9,348.2 659.5,341.9 660.2,347.4 660.9,349.6 661.5,346.0 662.2,345.9 662.8,347.1 663.5,348.9 664.2,344.0 664.8,346.1 665.5,345.6 666.1,346.8 666.8,346.2 667.4,347.0 668.1,345.3 668.8,346.0 669.4,344.9 670.1,344.9 670.7,345.7 671.4,345.7 672.1,344.1 672.7,348.4 673.4,345.7 674.0,343.7 674.7,347.7 675.3,344.7 676.0,346.7 676.7,345.9 677.3,346.3 678.0,346.2 678.6,345.0 679.3,346.0 680.0,349.2 680.6,342.4 681.3,346.0 681.9,346.6 682.6,344.2 683.2,343.7 683.9,349.4 684.6,345.3 685.2,349.3 685.9,346.8 686.5,346.0 687.2,346.7 687.9,346.9 688.5,347.8 689.2,346.6 689.8,346.2 690.5,346.2 691.1,348.1 691.8,347.2 692.5,344.3 693.1,344.9 693.8,346.5 694.4,344.9 695.1,345.3 695.8,344.4 696.4,345.5 697.1,346.6 697.7,347.5 698.4,345.9 699.0,349.2 699.7,345.8 700.4,351.0 701.0,347.5 701.7,346.7 702.3,345.1 703.0,341.4 703.7,345.7 704.3,346.2 705.0,349.0 705.6,343.7 706.3,349.0 706.9,345.5 707.6,347.1 708.3,341.8 708.9,346.1 709.6,345.4 710.2,347.0 710.9,346.1 711.6,344.1 712.2,347.4 712.9,347.0 713.5,346.9 714.2,347.5 714.8,347.7 715.5,345.9 716.2,343.7 716.8,343.7 717.5,348.1 718.1,347.0 718.8,346.1 719.5,345.2 720.1,346.0 720.8,345.9 721.4,345.4 722.1,344.8 722.7,349.4 723.4,346.3 724.1,344.9 724.7,343.8 725.4,344.7 726.0,347.1 726.7,347.1 727.4,345.6 728.0,346.0 728.7,345.4 729.3,344.1 730.0,348.0 730.6,346.5 731.3,349.9 732.0,344.7 732.6,345.7 733.3,347.3 733.9,345.5 734.6,343.7 735.3,344.4 735.9,346.1 736.6,346.4 737.2,345.7 737.9,347.5 738.5,347.5 739.2,346.4 739.9,345.9 740.5,345.5 741.2,346.8 741.8,347.4 742.5,346.0 743.2,346.6 743.8,345.4 744.5,343.6 745.1,344.3 745.8,347.1 746.4,346.6 747.1,348.4 747.8,346.0 748.4,347.3 749.1,348.0 749.7,347.5 750.4,344.9 751.1,345.6 751.7,346.1 752.4,344.3 753.0,346.6 753.7,347.5 754.3,345.1 755.0,349.0 755.7,345.4 756.3,345.6 757.0,345.5 757.6,344.7 758.3,346.5 759.0,345.9 759.6,348.5 760.3,346.8 760.9,346.7 761.6,345.5 762.2,343.6 762.9,345.7 763.6,344.5 764.2,347.4 764.9,345.8 765.5,348.5 766.2,347.0 766.9,347.2 767.5,346.2 768.2,346.2 768.8,346.9 769.5,347.3 770.1,344.7 770.8,346.7 771.5,350.1 772.1,345.7 772.8,345.5 773.4,344.8 774.1,343.6 774.8,347.8 775.4,346.0 776.1,346.3 776.7,348.8 777.4,349.9 778.0,344.4 778.7,347.6 779.4,346.9 780.0,346.5 780.7,346.6 781.3,345.8 782.0,348.4 782.7,346.8 783.3,346.4 784.0,347.9 784.6,347.3 785.3,346.6 785.9,346.4 786.6,348.7 787.3,346.7 787.9,345.7 788.6,344.5 789.2,345.3 789.9,344.2 790.6,346.0 791.2,346.3 791.9,342.6 792.5,345.9 793.2,346.9 793.8,346.1 794.5,344.3 795.2,347.9 795.8,344.7 796.5,343.9 797.1,344.1 797.8,345.8 798.5,347.4 799.1,347.7 799.8,346.2 800.4,343.9 801.1,344.8 801.7,344.4 802.4,345.6 803.1,343.0 803.7,346.0 804.4,346.9 805.0,345.6 805.7,346.6 806.4,344.3 807.0,343.5 807.7,344.8 808.3,347.7 809.0,347.5 809.6,345.1 810.3,347.8 811.0,345.3 811.6,348.3 812.3,346.6 812.9,345.1 813.6,347.1 814.3,344.6 814.9,344.3 815.6,343.5 816.2,346.3 816.9,345.8 817.5,345.7 818.2,345.2 818.9,348.1 819.5,345.2 820.2,344.7 820.8,347.8 821.5,348.1 822.2,346.4 822.8,343.1 823.5,344.9 824.1,346.8 824.8,345.9 825.4,348.3 826.1,343.6 826.8,346.9 827.4,344.8 828.1,347.9 828.7,345.7 829.4,347.5 830.1,344.8 830.7,343.6 831.4,344.1 832.0,344.9 832.7,344.2 833.3,347.7 834.0,348.0 834.7,346.3 835.3,344.2 836.0,345.6 836.6,344.7 837.3,348.2 838.0,346.3 838.6,346.6 839.3,345.2 839.9,342.6 840.6,344.6 841.2,344.0 841.9,346.4 842.6,346.0 843.2,344.5 843.9,345.2 844.5,348.3 845.2,344.3 845.9,344.3 846.5,345.5 847.2,344.7 847.8,345.1 848.5,346.7 849.1,348.6 849.8,343.0 850.5,345.8 851.1,345.9 851.8,345.7 852.4,345.5 853.1,345.3 853.8,347.4 854.4,345.1 855.1,345.6 855.7,345.8 856.4,346.0 857.0,345.5 857.7,347.4 858.4,345.8 859.0,346.1 859.7,345.7 860.3,344.2 861.0,344.5 861.7,344.1 862.3,346.1 863.0,344.7 863.6,344.1 864.3,346.2 864.9,346.6 865.6,343.0 866.3,348.5 866.9,345.9 867.6,345.6 868.2,347.5 868.9,345.9 869.6,344.8 870.2,349.3 870.9,344.1 871.5,345.6 872.2,347.2 872.8,344.1 873.5,345.6" fill="none" stroke="#db8d48" stroke-width="1.1" stroke-linejoin="round"/>
<path d="M150.0,336.1 150.7,341.8 151.3,332.4 152.0,334.8 152.6,336.7 153.3,335.0 153.9,331.4 154.6,335.9 155.3,335.0 155.9,335.9 156.6,337.9 157.2,337.5 157.9,335.7 158.6,335.4 159.2,331.4 159.9,334.1 160.5,335.0 161.2,333.2 161.8,334.6 162.5,332.0 163.2,338.6 163.8,340.4 164.5,333.1 165.1,335.3 165.8,333.5 166.5,337.7 167.1,335.3 167.8,334.2 168.4,333.1 169.1,333.8 169.7,329.3 170.4,335.3 171.1,329.2 171.7,334.3 172.4,332.1 173.0,336.3 173.7,330.7 174.4,335.2 175.0,325.6 175.7,332.4 176.3,328.0 177.0,329.5 177.6,328.4 178.3,332.1 179.0,317.6 179.6,328.2 180.3,319.4 180.9,330.9 181.6,317.6 182.3,321.4 182.9,319.6 183.6,329.6 184.2,321.7 184.9,325.1 185.5,323.7 186.2,321.0 186.9,324.1 187.5,326.2 188.2,324.3 188.8,326.7 189.5,323.9 190.2,324.7 190.8,323.8 191.5,325.3 192.1,328.7 192.8,325.3 193.4,324.9 194.1,323.1 194.8,322.8 195.4,327.6 196.1,321.9 196.7,322.3 197.4,324.1 198.1,323.4 198.7,328.6 199.4,319.0 200.0,325.0 200.7,325.8 201.3,321.6 202.0,322.7 202.7,325.1 203.3,327.8 204.0,322.0 204.6,320.4 205.3,326.5 206.0,328.7 206.6,323.9 207.3,317.8 207.9,331.1 208.6,325.2 209.2,331.3 209.9,326.6 210.6,325.4 211.2,325.4 211.9,334.9 212.5,335.0 213.2,318.3 213.9,324.2 214.5,337.2 215.2,327.2 215.8,322.8 216.5,329.4 217.1,329.1 217.8,329.3 218.5,327.7 219.1,328.7 219.8,328.3 220.4,332.2 221.1,327.0 221.8,329.7 222.4,330.5 223.1,337.5 223.7,333.3 224.4,331.3 225.0,334.5 225.7,334.0 226.4,337.3 227.0,334.7 227.7,340.8 228.3,338.9 229.0,332.6 229.7,331.0 230.3,337.1 231.0,335.6 231.6,332.9 232.3,326.7 232.9,325.2 233.6,335.3 234.3,337.4 234.9,337.6 235.6,328.3 236.2,339.0 236.9,332.0 237.6,336.3 238.2,336.5 238.9,331.1 239.5,332.2 240.2,325.7 240.8,331.0 241.5,327.2 242.2,337.4 242.8,335.8 243.5,339.8 244.1,337.4 244.8,333.1 245.5,337.7 246.1,334.7 246.8,339.4 247.4,338.4 248.1,332.8 248.7,337.5 249.4,338.0 250.1,336.7 250.7,342.3 251.4,346.2 252.0,337.2 252.7,337.5 253.4,329.4 254.0,339.0 254.7,337.9 255.3,330.6 256.0,341.7 256.6,343.3 257.3,337.7 258.0,339.6 258.6,337.2 259.3,345.0 259.9,335.3 260.6,340.7 261.3,350.7 261.9,342.5 262.6,344.4 263.2,341.9 263.9,337.6 264.5,342.5 265.2,344.5 265.9,338.6 266.5,344.4 267.2,348.3 267.8,347.7 268.5,337.0 269.2,340.7 269.8,340.7 270.5,354.9 271.1,354.1 271.8,352.5 272.4,343.0 273.1,340.1 273.8,344.5 274.4,344.6 275.1,340.9 275.7,344.9 276.4,347.0 277.1,345.5 277.7,340.6 278.4,336.5 279.0,343.8 279.7,345.6 280.3,344.4 281.0,344.5 281.7,344.3 282.3,350.4 283.0,348.3 283.6,349.7 284.3,346.6 285.0,348.7 285.6,352.1 286.3,349.0 286.9,348.5 287.6,351.5 288.2,355.8 288.9,353.2 289.6,356.4 290.2,352.8 290.9,352.5 291.5,350.2 292.2,352.2 292.9,357.0 293.5,354.6 294.2,355.7 294.8,355.8 295.5,354.4 296.1,354.1 296.8,355.0 297.5,356.4 298.1,356.1 298.8,356.3 299.4,355.7 300.1,353.7 300.8,354.9 301.4,353.4 302.1,357.8 302.7,350.7 303.4,355.0 304.0,360.9 304.7,354.7 305.4,352.9 306.0,355.5 306.7,358.4 307.3,355.1 308.0,356.9 308.7,355.7 309.3,354.6 310.0,362.7 310.6,355.7 311.3,354.3 311.9,354.4 312.6,356.4 313.3,356.4 313.9,357.3 314.6,355.8 315.2,352.2 315.9,356.7 316.6,354.8 317.2,354.8 317.9,352.1 318.5,354.2 319.2,353.8 319.8,355.4 320.5,352.2 321.2,355.6 321.8,355.8 322.5,352.9 323.1,354.1 323.8,353.5 324.5,357.6 325.1,349.7 325.8,354.7 326.4,351.7 327.1,354.5 327.7,357.4 328.4,354.1 329.1,355.8 329.7,353.6 330.4,359.9 331.0,357.6 331.7,358.1 332.4,352.5 333.0,353.0 333.7,358.0 334.3,355.1 335.0,354.9 335.6,356.3 336.3,352.6 337.0,357.3 337.6,355.5 338.3,356.6 338.9,354.0 339.6,356.7 340.3,353.9 340.9,357.7 341.6,358.1 342.2,357.6 342.9,356.7 343.5,356.9 344.2,349.3 344.9,357.4 345.5,354.9 346.2,355.7 346.8,354.9 347.5,352.3 348.2,354.3 348.8,357.0 349.5,358.7 350.1,354.1 350.8,353.4 351.4,358.8 352.1,353.5 352.8,360.2 353.4,355.6 354.1,353.5 354.7,357.7 355.4,359.4 356.1,352.2 356.7,359.1 357.4,354.9 358.0,358.9 358.7,354.6 359.3,351.9 360.0,356.6 360.7,357.6 361.3,360.3 362.0,359.4 362.6,357.1 363.3,355.0 364.0,354.3 364.6,354.8 365.3,353.6 365.9,354.9 366.6,349.7 367.2,355.9 367.9,355.4 368.6,361.4 369.2,357.2 369.9,354.4 370.5,356.8 371.2,352.7 371.9,354.1 372.5,351.2 373.2,358.8 373.8,356.9 374.5,352.8 375.1,355.4 375.8,357.7 376.5,356.6 377.1,356.4 377.8,353.5 378.4,354.0 379.1,355.7 379.8,357.6 380.4,353.6 381.1,352.9 381.7,358.1 382.4,353.4 383.0,358.0 383.7,356.1 384.4,357.5 385.0,359.5 385.7,357.1 386.3,357.3 387.0,353.4 387.7,353.9 388.3,357.0 389.0,359.0 389.6,358.7 390.3,360.8 390.9,356.2 391.6,356.0 392.3,357.8 392.9,355.5 393.6,355.4 394.2,353.1 394.9,357.8 395.6,353.1 396.2,356.7 396.9,352.3 397.5,358.0 398.2,353.2 398.8,357.4 399.5,351.9 400.2,354.5 400.8,358.2 401.5,353.6 402.1,355.6 402.8,354.4 403.5,350.2 404.1,356.2 404.8,356.4 405.4,352.9 406.1,356.7 406.7,353.6 407.4,353.1 408.1,355.4 408.7,353.9 409.4,360.6 410.0,351.8 410.7,357.1 411.4,357.6 412.0,350.9 412.7,351.4 413.3,356.6 414.0,354.3 414.6,356.2 415.3,357.9 416.0,354.5 416.6,352.9 417.3,349.1 417.9,355.8 418.6,353.2 419.3,356.0 419.9,355.8 420.6,352.1 421.2,359.2 421.9,357.7 422.5,357.2 423.2,352.5 423.9,354.3 424.5,354.0 425.2,354.3 425.8,352.7 426.5,356.2 427.2,355.7 427.8,356.0 428.5,354.0 429.1,358.1 429.8,355.6 430.4,348.9 431.1,353.7 431.8,355.0 432.4,357.3 433.1,354.5 433.7,354.6 434.4,353.6 435.1,356.6 435.7,354.1 436.4,353.7 437.0,353.4 437.7,356.4 438.3,353.9 439.0,351.3 439.7,356.5 440.3,353.5 441.0,355.9 441.6,355.9 442.3,357.8 443.0,357.4 443.6,353.7 444.3,354.6 444.9,352.1 445.6,358.8 446.2,356.0 446.9,358.2 447.6,354.3 448.2,350.3 448.9,358.5 449.5,355.2 450.2,355.3 450.9,355.1 451.5,356.4 452.2,356.2 452.8,351.3 453.5,357.4 454.1,353.7 454.8,353.8 455.5,358.8 456.1,357.0 456.8,354.1 457.4,350.6 458.1,355.2 458.8,356.1 459.4,354.7 460.1,352.0 460.7,353.0 461.4,352.0 462.0,355.3 462.7,356.7 463.4,357.2 464.0,353.1 464.7,355.3 465.3,356.1 466.0,353.6 466.7,354.4 467.3,359.6 468.0,355.2 468.6,356.8 469.3,353.8 469.9,354.8 470.6,350.8 471.3,354.7 471.9,357.4 472.6,359.5 473.2,357.4 473.9,356.3 474.6,354.8 475.2,353.3 475.9,354.3 476.5,356.1 477.2,352.9 477.8,356.8 478.5,352.4 479.2,350.6 479.8,352.3 480.5,350.8 481.1,351.5 481.8,357.2 482.5,354.2 483.1,355.1 483.8,357.2 484.4,357.5 485.1,353.4 485.7,357.6 486.4,355.4 487.1,354.6 487.7,355.6 488.4,351.3 489.0,352.7 489.7,354.3 490.4,355.9 491.0,353.7 491.7,354.2 492.3,356.7 493.0,357.7 493.6,356.2 494.3,357.4 495.0,353.5 495.6,353.8 496.3,355.2 496.9,353.8 497.6,353.3 498.3,358.2 498.9,354.0 499.6,352.2 500.2,355.5 500.9,358.6 501.5,354.6 502.2,357.2 502.9,353.4 503.5,353.3 504.2,352.8 504.8,354.0 505.5,358.5 506.2,351.7 506.8,358.1 507.5,352.0 508.1,353.8 508.8,356.2 509.4,355.8 510.1,355.0 510.8,350.5 511.4,355.1 512.1,352.0 512.7,360.1 513.4,353.8 514.1,354.7 514.7,351.6 515.4,353.2 516.0,351.3 516.7,356.5 517.3,353.6 518.0,355.5 518.7,352.7 519.3,353.1 520.0,357.1 520.6,351.9 521.3,350.0 522.0,355.0 522.6,351.4 523.3,353.0 523.9,356.0 524.6,352.0 525.2,355.8 525.9,352.2 526.6,357.2 527.2,356.7 527.9,352.6 528.5,353.1 529.2,351.7 529.9,354.0 530.5,356.1 531.2,350.1 531.8,355.5 532.5,350.3 533.1,351.4 533.8,349.2 534.5,358.0 535.1,353.3 535.8,353.7 536.4,351.5 537.1,355.5 537.8,348.2 538.4,353.0 539.1,357.9 539.7,352.0 540.4,352.9 541.0,354.3 541.7,350.9 542.4,352.7 543.0,354.8 543.7,353.0 544.3,353.4 545.0,351.7 545.7,353.2 546.3,352.6 547.0,355.7 547.6,354.0 548.3,351.7 548.9,346.7 549.6,353.8 550.3,353.9 550.9,350.0 551.6,347.5 552.2,349.4 552.9,354.1 553.6,349.5 554.2,350.8 554.9,352.3 555.5,354.6 556.2,351.7 556.8,351.5 557.5,350.4 558.2,355.3 558.8,354.0 559.5,351.3 560.1,348.3 560.8,349.6 561.5,352.6 562.1,349.5 562.8,353.2 563.4,351.9 564.1,351.6 564.7,352.4 565.4,352.0 566.1,348.6 566.7,349.8 567.4,356.2 568.0,347.5 568.7,349.2 569.4,352.9 570.0,349.8 570.7,348.1 571.3,346.7 572.0,351.2 572.6,352.4 573.3,353.3 574.0,349.8 574.6,352.2 575.3,346.8 575.9,349.8 576.6,347.5 577.3,349.7 577.9,351.1 578.6,351.8 579.2,346.3 579.9,352.2 580.5,347.5 581.2,345.9 581.9,348.1 582.5,344.5 583.2,348.4 583.8,349.1 584.5,347.7 585.2,349.6 585.8,347.2 586.5,348.0 587.1,343.9 587.8,347.9 588.4,345.3 589.1,346.3 589.8,347.3 590.4,347.9 591.1,342.4 591.7,342.4 592.4,345.8 593.1,347.9 593.7,347.3 594.4,348.7 595.0,349.7 595.7,347.1 596.3,345.3 597.0,342.1 597.7,342.1 598.3,343.3 599.0,345.3 599.6,345.0 600.3,344.1 601.0,343.4 601.6,345.5 602.3,344.0 602.9,344.1 603.6,343.9 604.2,341.1 604.9,339.4 605.6,343.9 606.2,343.7 606.9,341.6 607.5,341.0 608.2,349.2 608.9,339.8 609.5,341.4 610.2,342.8 610.8,338.4 611.5,342.2 612.1,347.3 612.8,344.6 613.5,343.6 614.1,343.4 614.8,341.9 615.4,344.4 616.1,340.9 616.8,340.0 617.4,341.6 618.1,344.0 618.7,342.1 619.4,343.1 620.0,334.7 620.7,344.7 621.4,348.2 622.0,345.1 622.7,340.0 623.3,338.4 624.0,341.9 624.7,337.9 625.3,343.3 626.0,339.4 626.6,344.0 627.3,345.2 627.9,334.7 628.6,341.9 629.3,338.8 629.9,336.6 630.6,339.1 631.2,340.3 631.9,344.2 632.6,336.2 633.2,344.3 633.9,347.3 634.5,342.9 635.2,342.7 635.8,341.0 636.5,337.3 637.2,342.7 637.8,342.2 638.5,343.3 639.1,349.1 639.8,343.3 640.5,342.3 641.1,345.9 641.8,336.8 642.4,337.4 643.1,339.8 643.7,338.9 644.4,343.2 645.1,340.0 645.7,346.5 646.4,345.8 647.0,343.4 647.7,339.8 648.4,343.0 649.0,343.6 649.7,337.6 650.3,342.1 651.0,343.2 651.6,341.7 652.3,346.0 653.0,344.9 653.6,338.4 654.3,341.4 654.9,338.3 655.6,342.8 656.3,338.2 656.9,343.9 657.6,342.2 658.2,344.1 658.9,340.5 659.5,336.3 660.2,346.6 660.9,340.4 661.5,345.4 662.2,342.4 662.8,343.2 663.5,346.9 664.2,342.1 664.8,345.5 665.5,336.2 666.1,343.8 666.8,340.2 667.4,340.6 668.1,341.0 668.8,342.1 669.4,346.3 670.1,335.0 670.7,341.1 671.4,338.7 672.1,344.8 672.7,339.6 673.4,342.5 674.0,339.7 674.7,343.2 675.3,344.3 676.0,339.7 676.7,341.2 677.3,336.4 678.0,342.0 678.6,343.8 679.3,339.2 680.0,344.6 680.6,334.3 681.3,335.0 681.9,336.5 682.6,339.4 683.2,341.1 683.9,340.7 684.6,340.8 685.2,343.4 685.9,339.5 686.5,336.9 687.2,336.9 687.9,347.9 688.5,333.3 689.2,340.4 689.8,345.8 690.5,342.6 691.1,338.3 691.8,341.0 692.5,343.8 693.1,345.0 693.8,338.0 694.4,343.5 695.1,341.8 695.8,344.6 696.4,345.6 697.1,339.9 697.7,336.2 698.4,342.3 699.0,346.9 699.7,343.3 700.4,341.8 701.0,348.9 701.7,337.6 702.3,344.0 703.0,339.1 703.7,341.2 704.3,341.3 705.0,346.0 705.6,337.9 706.3,339.2 706.9,335.7 707.6,342.6 708.3,339.5 708.9,342.4 709.6,337.4 710.2,339.8 710.9,344.5 711.6,340.4 712.2,343.1 712.9,342.8 713.5,339.8 714.2,335.8 714.8,344.3 715.5,341.6 716.2,344.3 716.8,334.3 717.5,335.5 718.1,333.8 718.8,338.1 719.5,344.5 720.1,342.9 720.8,340.9 721.4,341.4 722.1,343.6 722.7,340.0 723.4,342.3 724.1,341.5 724.7,333.6 725.4,339.7 726.0,345.6 726.7,339.7 727.4,340.5 728.0,339.0 728.7,339.4 729.3,344.8 730.0,340.1 730.6,337.5 731.3,330.5 732.0,339.1 732.6,334.3 733.3,334.8 733.9,343.7 734.6,343.4 735.3,334.5 735.9,343.9 736.6,342.6 737.2,338.3 737.9,343.5 738.5,335.5 739.2,336.9 739.9,336.1 740.5,337.5 741.2,344.6 741.8,337.4 742.5,338.3 743.2,339.3 743.8,343.6 744.5,342.1 745.1,346.5 745.8,341.5 746.4,339.6 747.1,342.3 747.8,344.1 748.4,340.8 749.1,344.9 749.7,350.2 750.4,341.9 751.1,344.1 751.7,348.6 752.4,341.7 753.0,341.0 753.7,340.1 754.3,345.2 755.0,345.6 755.7,343.4 756.3,344.0 757.0,348.2 757.6,346.8 758.3,339.0 759.0,343.8 759.6,344.2 760.3,346.3 760.9,343.0 761.6,341.6 762.2,342.2 762.9,337.6 763.6,343.7 764.2,341.7 764.9,345.3 765.5,340.2 766.2,342.2 766.9,340.3 767.5,340.0 768.2,346.1 768.8,342.1 769.5,345.2 770.1,339.8 770.8,344.0 771.5,337.8 772.1,342.0 772.8,341.9 773.4,345.6 774.1,344.2 774.8,343.0 775.4,346.5 776.1,344.2 776.7,345.4 777.4,346.2 778.0,343.3 778.7,342.5 779.4,344.7 780.0,342.1 780.7,344.9 781.3,347.4 782.0,346.5 782.7,342.2 783.3,339.0 784.0,343.3 784.6,343.0 785.3,347.3 785.9,342.1 786.6,342.7 787.3,346.0 787.9,341.8 788.6,342.9 789.2,349.4 789.9,348.6 790.6,345.6 791.2,344.4 791.9,340.0 792.5,345.3 793.2,343.6 793.8,344.2 794.5,341.6 795.2,343.3 795.8,342.7 796.5,344.5 797.1,348.3 797.8,344.6 798.5,337.6 799.1,340.0 799.8,337.8 800.4,340.5 801.1,345.3 801.7,344.7 802.4,341.2 803.1,344.2 803.7,340.6 804.4,338.2 805.0,338.2 805.7,340.1 806.4,348.1 807.0,338.4 807.7,347.4 808.3,347.2 809.0,340.1 809.6,335.8 810.3,326.8 811.0,324.9 811.6,330.4 812.3,335.1 812.9,343.7 813.6,346.5 814.3,344.0 814.9,344.0 815.6,342.6 816.2,344.0 816.9,338.8 817.5,344.2 818.2,343.4 818.9,339.7 819.5,350.2 820.2,339.2 820.8,339.6 821.5,343.6 822.2,335.7 822.8,339.8 823.5,337.2 824.1,339.1 824.8,342.0 825.4,343.6 826.1,346.3 826.8,345.3 827.4,346.6 828.1,344.5 828.7,340.7 829.4,346.3 830.1,340.6 830.7,340.1 831.4,347.7 832.0,345.0 832.7,343.0 833.3,344.9 834.0,345.3 834.7,337.3 835.3,341.8 836.0,337.9 836.6,342.5 837.3,339.7 838.0,346.9 838.6,343.9 839.3,339.1 839.9,341.9 840.6,337.6 841.2,342.1 841.9,343.9 842.6,342.8 843.2,335.0 843.9,340.6 844.5,343.6 845.2,342.8 845.9,345.7 846.5,336.7 847.2,343.0 847.8,338.6 848.5,341.4 849.1,342.0 849.8,342.8 850.5,338.1 851.1,340.6 851.8,335.5 852.4,334.5 853.1,341.3 853.8,338.9 854.4,333.1 855.1,335.7 855.7,338.6 856.4,343.9 857.0,341.8 857.7,340.7 858.4,331.2 859.0,336.9 859.7,338.7 860.3,338.0 861.0,337.8 861.7,335.1 862.3,342.0 863.0,340.6 863.6,334.6 864.3,331.1 864.9,341.7 865.6,332.0 866.3,338.0 866.9,340.3 867.6,329.7 868.2,333.9 868.9,331.3 869.6,334.1 870.2,333.1 870.9,338.7 871.5,333.5 872.2,331.1 872.8,334.9 873.5,329.8" fill="none" stroke="#a35bd6" stroke-width="1.1" stroke-linejoin="round"/>
<path d="M150.0,333.8 150.7,341.2 151.3,332.4 152.0,333.3 152.6,334.8 153.3,331.6 153.9,328.6 154.6,337.6 155.3,332.3 155.9,333.0 156.6,333.4 157.2,331.6 157.9,331.3 158.6,334.8 159.2,341.2 159.9,336.4 160.5,336.4 161.2,329.9 161.8,334.1 162.5,330.8 163.2,336.3 163.8,333.4 164.5,334.1 165.1,333.7 165.8,332.3 166.5,329.6 167.1,335.5 167.8,329.9 168.4,330.0 169.1,332.2 169.7,330.2 170.4,333.4 171.1,336.3 171.7,332.7 172.4,332.2 173.0,330.9 173.7,334.5 174.4,321.3 175.0,331.5 175.7,324.8 176.3,322.9 177.0,328.3 177.6,326.0 178.3,330.1 179.0,332.1 179.6,315.4 180.3,325.6 180.9,333.8 181.6,328.4 182.3,329.9 182.9,325.1 183.6,320.7 184.2,321.9 184.9,326.3 185.5,326.7 186.2,323.2 186.9,324.1 187.5,325.2 188.2,320.9 188.8,323.8 189.5,328.0 190.2,329.2 190.8,324.3 191.5,328.4 192.1,323.3 192.8,322.7 193.4,319.5 194.1,326.4 194.8,323.5 195.4,329.4 196.1,325.0 196.7,324.6 197.4,320.2 198.1,327.5 198.7,323.3 199.4,323.8 200.0,319.2 200.7,326.1 201.3,326.2 202.0,322.6 202.7,324.2 203.3,324.8 204.0,326.1 204.6,324.1 205.3,328.2 206.0,323.7 206.6,322.9 207.3,323.5 207.9,316.0 208.6,322.6 209.2,330.6 209.9,327.8 210.6,323.0 211.2,329.0 211.9,318.1 212.5,326.6 213.2,330.6 213.9,331.6 214.5,324.9 215.2,333.0 215.8,337.7 216.5,327.1 217.1,332.8 217.8,322.2 218.5,320.5 219.1,332.8 219.8,330.3 220.4,331.3 221.1,327.8 221.8,329.4 222.4,334.7 223.1,339.2 223.7,330.4 224.4,323.9 225.0,337.7 225.7,334.7 226.4,335.2 227.0,333.0 227.7,343.0 228.3,332.8 229.0,334.9 229.7,324.2 230.3,330.2 231.0,329.8 231.6,333.0 232.3,334.8 232.9,329.9 233.6,341.4 234.3,328.8 234.9,331.7 235.6,335.0 236.2,328.3 236.9,336.7 237.6,337.2 238.2,333.1 238.9,343.2 239.5,335.0 240.2,336.1 240.8,330.6 241.5,327.5 242.2,332.4 242.8,333.9 243.5,333.4 244.1,339.1 244.8,325.0 245.5,330.9 246.1,328.0 246.8,342.5 247.4,334.2 248.1,334.7 248.7,332.4 249.4,341.5 250.1,336.0 250.7,339.0 251.4,329.3 252.0,343.8 252.7,340.6 253.4,341.6 254.0,344.8 254.7,338.8 255.3,339.2 256.0,343.3 256.6,342.3 257.3,339.6 258.0,341.2 258.6,339.0 259.3,344.6 259.9,345.8 260.6,341.9 261.3,350.1 261.9,335.4 262.6,341.2 263.2,349.6 263.9,340.6 264.5,335.7 265.2,348.5 265.9,345.0 266.5,337.7 267.2,346.1 267.8,338.7 268.5,337.5 269.2,342.5 269.8,341.3 270.5,338.9 271.1,342.0 271.8,339.5 272.4,343.9 273.1,343.7 273.8,346.9 274.4,342.1 275.1,338.7 275.7,338.9 276.4,343.3 277.1,350.4 277.7,347.8 278.4,342.1 279.0,348.4 279.7,340.3 280.3,349.2 281.0,344.5 281.7,349.7 282.3,349.9 283.0,347.2 283.6,350.3 284.3,346.1 285.0,350.4 285.6,354.9 286.3,364.6 286.9,354.2 287.6,352.5 288.2,349.7 288.9,355.3 289.6,348.8 290.2,351.1 290.9,353.9 291.5,350.5 292.2,357.0 292.9,356.1 293.5,352.5 294.2,352.7 294.8,351.1 295.5,351.1 296.1,355.4 296.8,356.0 297.5,355.6 298.1,355.5 298.8,353.8 299.4,356.1 300.1,352.0 300.8,355.4 301.4,358.8 302.1,358.4 302.7,354.3 303.4,354.6 304.0,358.5 304.7,359.5 305.4,352.0 306.0,354.4 306.7,355.9 307.3,358.2 308.0,353.5 308.7,356.9 309.3,354.7 310.0,360.8 310.6,356.4 311.3,355.1 311.9,354.6 312.6,357.8 313.3,357.0 313.9,352.9 314.6,355.9 315.2,352.3 315.9,353.7 316.6,352.4 317.2,352.4 317.9,353.8 318.5,353.2 319.2,356.6 319.8,357.2 320.5,354.9 321.2,352.8 321.8,357.2 322.5,350.8 323.1,351.0 323.8,357.1 324.5,356.9 325.1,357.6 325.8,354.9 326.4,352.5 327.1,354.2 327.7,356.7 328.4,353.6 329.1,353.8 329.7,352.2 330.4,352.7 331.0,357.3 331.7,356.4 332.4,352.7 333.0,352.9 333.7,354.1 334.3,356.7 335.0,352.7 335.6,355.0 336.3,350.5 337.0,352.5 337.6,356.4 338.3,357.5 338.9,352.8 339.6,353.6 340.3,357.2 340.9,354.5 341.6,354.2 342.2,356.6 342.9,355.8 343.5,357.9 344.2,357.2 344.9,354.1 345.5,355.1 346.2,355.3 346.8,352.3 347.5,353.2 348.2,357.6 348.8,351.8 349.5,357.7 350.1,356.1 350.8,355.1 351.4,356.6 352.1,356.5 352.8,358.2 353.4,354.5 354.1,354.9 354.7,354.8 355.4,359.7 356.1,357.6 356.7,353.3 357.4,354.6 358.0,353.8 358.7,355.4 359.3,355.9 360.0,360.7 360.7,351.2 361.3,357.8 362.0,356.4 362.6,353.8 363.3,355.1 364.0,354.3 364.6,355.5 365.3,357.7 365.9,351.9 366.6,358.4 367.2,354.6 367.9,358.8 368.6,356.4 369.2,358.2 369.9,356.7 370.5,357.9 371.2,355.5 371.9,353.5 372.5,357.0 373.2,357.0 373.8,360.2 374.5,350.8 375.1,355.0 375.8,357.8 376.5,352.6 377.1,354.9 377.8,360.3 378.4,358.7 379.1,353.4 379.8,358.7 380.4,358.1 381.1,357.2 381.7,356.3 382.4,356.0 383.0,353.4 383.7,354.2 384.4,357.1 385.0,355.8 385.7,359.7 386.3,354.7 387.0,349.9 387.7,354.7 388.3,356.1 389.0,356.3 389.6,355.6 390.3,353.6 390.9,358.8 391.6,353.9 392.3,357.1 392.9,354.8 393.6,352.7 394.2,358.7 394.9,349.7 395.6,353.5 396.2,356.4 396.9,354.6 397.5,357.2 398.2,355.2 398.8,354.4 399.5,360.4 400.2,354.9 400.8,355.1 401.5,353.0 402.1,353.7 402.8,356.9 403.5,356.7 404.1,355.4 404.8,353.8 405.4,357.0 406.1,351.5 406.7,354.6 407.4,354.8 408.1,353.4 408.7,355.7 409.4,353.8 410.0,353.5 410.7,359.5 411.4,357.0 412.0,358.1 412.7,355.4 413.3,357.5 414.0,357.1 414.6,358.1 415.3,360.7 416.0,354.8 416.6,355.9 417.3,355.2 417.9,347.3 418.6,352.1 419.3,355.3 419.9,356.7 420.6,353.9 421.2,357.8 421.9,358.2 422.5,354.3 423.2,358.5 423.9,359.2 424.5,356.3 425.2,353.0 425.8,358.6 426.5,354.8 427.2,354.3 427.8,355.5 428.5,354.0 429.1,357.6 429.8,356.9 430.4,357.9 431.1,356.5 431.8,353.3 432.4,354.8 433.1,357.1 433.7,354.2 434.4,361.8 435.1,354.6 435.7,353.8 436.4,357.7 437.0,356.8 437.7,355.0 438.3,354.6 439.0,356.0 439.7,357.0 440.3,356.8 441.0,354.4 441.6,356.0 442.3,357.0 443.0,356.8 443.6,348.0 444.3,353.0 444.9,353.2 445.6,354.5 446.2,355.4 446.9,357.1 447.6,356.4 448.2,354.7 448.9,355.0 449.5,359.0 450.2,353.6 450.9,355.6 451.5,358.5 452.2,355.7 452.8,350.3 453.5,355.8 454.1,354.0 454.8,354.6 455.5,357.3 456.1,356.0 456.8,354.3 457.4,356.9 458.1,355.9 458.8,355.1 459.4,355.5 460.1,355.4 460.7,354.1 461.4,353.8 462.0,354.9 462.7,352.6 463.4,351.9 464.0,357.8 464.7,354.3 465.3,354.7 466.0,354.5 466.7,354.8 467.3,354.8 468.0,354.9 468.6,352.9 469.3,356.9 469.9,353.2 470.6,357.1 471.3,350.4 471.9,352.3 472.6,357.0 473.2,354.4 473.9,353.2 474.6,355.5 475.2,352.3 475.9,354.9 476.5,349.6 477.2,353.6 477.8,353.2 478.5,355.9 479.2,356.6 479.8,352.7 480.5,358.3 481.1,353.3 481.8,349.9 482.5,349.2 483.1,358.1 483.8,354.4 484.4,353.1 485.1,352.9 485.7,352.1 486.4,357.6 487.1,354.4 487.7,358.6 488.4,354.1 489.0,349.2 489.7,356.5 490.4,353.7 491.0,354.0 491.7,358.1 492.3,353.9 493.0,357.1 493.6,354.5 494.3,352.8 495.0,355.6 495.6,353.1 496.3,357.3 496.9,356.6 497.6,354.6 498.3,355.8 498.9,355.7 499.6,353.8 500.2,356.5 500.9,353.9 501.5,355.8 502.2,352.2 502.9,354.6 503.5,355.3 504.2,352.6 504.8,353.4 505.5,353.1 506.2,356.0 506.8,352.7 507.5,355.3 508.1,357.8 508.8,355.1 509.4,350.7 510.1,354.6 510.8,356.7 511.4,353.7 512.1,356.8 512.7,355.7 513.4,355.2 514.1,353.7 514.7,353.1 515.4,353.7 516.0,354.4 516.7,355.4 517.3,355.2 518.0,353.6 518.7,354.4 519.3,355.1 520.0,350.5 520.6,352.4 521.3,352.3 522.0,353.6 522.6,353.4 523.3,353.4 523.9,352.0 524.6,355.5 525.2,354.5 525.9,350.1 526.6,353.8 527.2,351.2 527.9,357.6 528.5,352.6 529.2,352.7 529.9,353.8 530.5,353.1 531.2,353.3 531.8,357.0 532.5,353.9 533.1,355.3 533.8,355.9 534.5,351.0 535.1,357.1 535.8,354.7 536.4,355.3 537.1,351.1 537.8,354.9 538.4,353.9 539.1,351.7 539.7,358.1 540.4,354.2 541.0,352.3 541.7,353.2 542.4,354.8 543.0,355.3 543.7,354.0 544.3,355.4 545.0,355.9 545.7,349.7 546.3,351.4 547.0,350.3 547.6,352.6 548.3,355.6 548.9,353.8 549.6,349.9 550.3,351.5 550.9,354.5 551.6,350.9 552.2,351.8 552.9,352.7 553.6,347.8 554.2,353.7 554.9,352.7 555.5,353.1 556.2,349.6 556.8,350.0 557.5,350.4 558.2,352.2 558.8,351.8 559.5,351.9 560.1,355.6 560.8,354.4 561.5,349.7 562.1,349.7 562.8,355.2 563.4,350.3 564.1,354.3 564.7,354.7 565.4,349.5 566.1,350.1 566.7,350.9 567.4,348.5 568.0,348.1 568.7,349.4 569.4,352.4 570.0,349.1 570.7,349.6 571.3,348.9 572.0,346.5 572.6,353.6 573.3,343.8 574.0,348.0 574.6,351.0 575.3,345.9 575.9,351.0 576.6,352.6 577.3,347.0 577.9,349.7 578.6,346.2 579.2,350.3 579.9,349.1 580.5,349.4 581.2,352.4 581.9,349.9 582.5,352.2 583.2,350.2 583.8,345.1 584.5,349.0 585.2,349.5 585.8,344.1 586.5,351.7 587.1,348.1 587.8,348.9 588.4,345.2 589.1,347.9 589.8,348.4 590.4,346.5 591.1,347.4 591.7,340.9 592.4,350.7 593.1,343.3 593.7,339.9 594.4,343.3 595.0,343.4 595.7,347.3 596.3,342.7 597.0,346.1 597.7,342.1 598.3,351.4 599.0,346.2 599.6,350.3 600.3,341.0 601.0,345.9 601.6,340.8 602.3,345.2 602.9,345.3 603.6,338.2 604.2,339.3 604.9,339.0 605.6,337.9 606.2,340.2 606.9,339.4 607.5,337.9 608.2,342.5 608.9,343.8 609.5,338.1 610.2,340.3 610.8,342.0 611.5,341.2 612.1,339.7 612.8,344.3 613.5,344.3 614.1,343.7 614.8,340.9 615.4,347.6 616.1,346.8 616.8,340.1 617.4,340.9 618.1,344.9 618.7,338.7 619.4,342.3 620.0,341.2 620.7,338.9 621.4,340.3 622.0,336.2 622.7,339.3 623.3,334.8 624.0,348.1 624.7,345.7 625.3,344.8 626.0,342.0 626.6,344.1 627.3,345.0 627.9,344.2 628.6,343.9 629.3,338.2 629.9,342.4 630.6,339.4 631.2,337.3 631.9,337.5 632.6,342.4 633.2,344.3 633.9,336.7 634.5,346.5 635.2,345.6 635.8,339.8 636.5,339.6 637.2,340.8 637.8,344.1 638.5,339.8 639.1,337.5 639.8,342.1 640.5,334.5 641.1,341.4 641.8,344.7 642.4,342.0 643.1,343.5 643.7,342.6 644.4,343.3 645.1,341.5 645.7,338.4 646.4,340.3 647.0,340.8 647.7,345.0 648.4,346.1 649.0,342.3 649.7,338.6 650.3,338.7 651.0,340.4 651.6,345.4 652.3,342.1 653.0,340.8 653.6,338.6 654.3,343.8 654.9,341.9 655.6,340.8 656.3,341.3 656.9,346.4 657.6,340.5 658.2,346.4 658.9,345.0 659.5,341.2 660.2,343.8 660.9,340.6 661.5,338.3 662.2,340.1 662.8,338.1 663.5,342.6 664.2,341.0 664.8,342.8 665.5,343.7 666.1,331.0 666.8,342.0 667.4,335.2 668.1,341.5 668.8,338.2 669.4,341.3 670.1,345.4 670.7,335.5 671.4,341.6 672.1,340.7 672.7,334.9 673.4,343.1 674.0,341.1 674.7,339.4 675.3,338.7 676.0,351.4 676.7,339.7 677.3,335.2 678.0,338.0 678.6,339.8 679.3,339.8 680.0,340.7 680.6,337.6 681.3,342.8 681.9,339.4 682.6,336.6 683.2,338.3 683.9,339.7 684.6,343.8 685.2,342.6 685.9,339.9 686.5,341.1 687.2,341.7 687.9,347.7 688.5,339.0 689.2,342.5 689.8,343.4 690.5,337.9 691.1,341.6 691.8,341.5 692.5,339.5 693.1,342.9 693.8,344.4 694.4,344.7 695.1,340.4 695.8,341.6 696.4,348.7 697.1,337.4 697.7,341.7 698.4,343.9 699.0,341.5 699.7,343.2 700.4,341.6 701.0,343.5 701.7,345.2 702.3,340.3 703.0,341.7 703.7,340.8 704.3,339.7 705.0,340.9 705.6,337.2 706.3,343.5 706.9,346.6 707.6,346.7 708.3,345.2 708.9,337.8 709.6,346.1 710.2,338.6 710.9,340.8 711.6,347.1 712.2,337.4 712.9,343.8 713.5,341.9 714.2,340.5 714.8,338.1 715.5,342.4 716.2,339.4 716.8,344.5 717.5,345.1 718.1,336.4 718.8,339.3 719.5,339.9 720.1,337.0 720.8,337.3 721.4,341.3 722.1,340.3 722.7,335.5 723.4,339.2 724.1,342.7 724.7,336.9 725.4,337.9 726.0,346.3 726.7,345.4 727.4,335.5 728.0,336.4 728.7,342.3 729.3,337.0 730.0,340.1 730.6,339.5 731.3,342.9 732.0,332.4 732.6,333.5 733.3,336.8 733.9,344.4 734.6,340.5 735.3,335.2 735.9,342.7 736.6,343.4 737.2,340.2 737.9,339.9 738.5,342.5 739.2,345.1 739.9,341.5 740.5,343.1 741.2,341.4 741.8,340.6 742.5,339.1 743.2,343.5 743.8,341.9 744.5,342.4 745.1,346.7 745.8,345.6 746.4,347.0 747.1,338.6 747.8,345.9 748.4,342.0 749.1,341.2 749.7,341.0 750.4,348.1 751.1,346.8 751.7,341.5 752.4,340.0 753.0,344.0 753.7,342.4 754.3,349.6 755.0,338.9 755.7,337.6 756.3,343.0 757.0,343.9 757.6,344.3 758.3,346.5 759.0,351.0 759.6,342.7 760.3,342.0 760.9,337.8 761.6,344.7 762.2,346.8 762.9,342.9 763.6,347.9 764.2,343.9 764.9,349.0 765.5,345.0 766.2,340.2 766.9,341.6 767.5,338.5 768.2,337.8 768.8,344.7 769.5,346.8 770.1,350.5 770.8,343.6 771.5,342.9 772.1,339.9 772.8,347.2 773.4,345.1 774.1,341.7 774.8,346.1 775.4,345.7 776.1,337.2 776.7,346.3 777.4,344.2 778.0,342.3 778.7,342.3 779.4,349.8 780.0,349.0 780.7,350.0 781.3,339.7 782.0,341.4 782.7,346.8 783.3,339.5 784.0,341.1 784.6,337.4 785.3,350.1 785.9,347.3 786.6,345.2 787.3,344.4 787.9,342.2 788.6,342.2 789.2,345.7 789.9,341.1 790.6,347.9 791.2,341.9 791.9,340.5 792.5,348.1 793.2,343.1 793.8,345.5 794.5,342.1 795.2,335.7 795.8,345.5 796.5,338.8 797.1,347.3 797.8,338.1 798.5,337.0 799.1,344.6 799.8,345.0 800.4,343.9 801.1,339.2 801.7,346.6 802.4,338.3 803.1,341.8 803.7,340.6 804.4,342.0 805.0,346.3 805.7,341.1 806.4,345.3 807.0,345.7 807.7,337.2 808.3,339.1 809.0,341.9 809.6,341.1 810.3,344.2 811.0,336.3 811.6,345.6 812.3,345.7 812.9,342.5 813.6,338.2 814.3,343.0 814.9,341.1 815.6,345.0 816.2,342.7 816.9,345.5 817.5,341.4 818.2,348.0 818.9,334.7 819.5,339.3 820.2,344.6 820.8,337.5 821.5,345.4 822.2,338.5 822.8,343.1 823.5,339.5 824.1,341.1 824.8,343.3 825.4,342.3 826.1,341.3 826.8,350.2 827.4,342.6 828.1,339.1 828.7,345.8 829.4,345.4 830.1,346.8 830.7,348.8 831.4,339.1 832.0,346.2 832.7,346.5 833.3,342.4 834.0,343.2 834.7,331.7 835.3,340.3 836.0,348.7 836.6,335.9 837.3,340.4 838.0,343.3 838.6,344.3 839.3,348.0 839.9,335.9 840.6,342.3 841.2,345.2 841.9,337.4 842.6,341.9 843.2,348.8 843.9,346.7 844.5,343.9 845.2,332.6 845.9,341.3 846.5,342.9 847.2,340.2 847.8,340.9 848.5,351.9 849.1,340.0 849.8,337.1 850.5,341.2 851.1,339.0 851.8,338.8 852.4,339.4 853.1,342.3 853.8,340.2 854.4,334.8 855.1,338.4 855.7,340.4 856.4,336.8 857.0,342.4 857.7,340.9 858.4,334.3 859.0,338.6 859.7,344.3 860.3,342.4 861.0,336.3 861.7,339.4 862.3,333.4 863.0,330.3 863.6,337.2 864.3,335.7 864.9,336.4 865.6,334.1 866.3,335.1 866.9,331.8 867.6,335.0 868.2,336.0 868.9,332.6 869.6,335.4 870.2,325.8 870.9,329.1 871.5,336.8 872.2,337.7 872.8,332.0 873.5,330.6" fill="none" stroke="#5cb18b" stroke-width="1.1" stroke-linejoin="round"/>
  <circle cx="605" cy="366" r="3" fill="#3a63d2"/>
  <circle cx="605" cy="371" r="3" fill="#d24a72"/>
  <circle cx="605" cy="338.5" r="3" fill="#a35bd6"/>
  <circle cx="605" cy="344.7" r="3" fill="#5cb18b"/>
  <!-- legend squares -->
  <rect x="320.6" y="476.9" width="5.6" height="5.6" rx="1.2" fill="#3560d0"/>
  <rect x="409.3" y="476.9" width="5.6" height="5.6" rx="1.2" fill="#d04870"/>
  <rect x="466.4" y="476.9" width="5.6" height="5.6" rx="1.2" fill="#d88c46"/>
  <rect x="547.5" y="476.9" width="5.6" height="5.6" rx="1.2" fill="#a05ad4"/>
  <rect x="639.3" y="476.9" width="5.6" height="5.6" rx="1.2" fill="#5fb08a"/>
</svg>

<!-- card header text -->
<div class="t b" style="left:161.5px;top:231px;font-size:15.3px;color:#111">Home-Core</div>
<div class="t" style="left:141.3px;top:253px;font-size:9.5px;color:#929292">5 Services</div>

<div class="t" style="left:280.6px;top:228.5px;font-size:9.5px;color:#929292">阿里云深圳 | v4</div>
<div class="t b" style="left:280.6px;top:246.5px;font-size:13.6px;color:#111">8.17ms</div>
<div class="t" style="left:383.7px;top:228.5px;font-size:9.5px;color:#929292">Ali-DNS</div>
<div class="t b" style="left:383.9px;top:246.5px;font-size:13.6px;color:#111">7.76ms</div>
<div class="t" style="left:468.6px;top:228.5px;font-size:9.5px;color:#929292">Tencent-DNS</div>
<div class="t b" style="left:468.6px;top:246.5px;font-size:13.6px;color:#111">10.64ms</div>
<div class="t" style="left:564px;top:228.5px;font-size:9.5px;color:#929292">Cloudflare-DNS</div>
<div class="t b" style="left:564px;top:246.5px;font-size:13.6px;color:#111">11.51ms</div>
<div class="t" style="left:669.4px;top:228.5px;font-size:9.5px;color:#929292">Google-DNS</div>
<div class="t b" style="left:669.4px;top:246.5px;font-size:13.6px;color:#111">11.85ms</div>

<!-- tooltip -->
<div class="abs" style="left:613px;top:335.3px;width:132.6px;height:92px;border-radius:8px;background:#fff;border:1px solid #eaeaea;box-shadow:0 2px 6px rgba(0,0,0,0.05),0 6px 20px rgba(0,0,0,0.07)"></div>
<svg class="full" width="1024" height="755" viewBox="0 0 1024 755">
  <rect x="620.8" y="357.6" width="3" height="8" rx="1.5" fill="#a05ad4"/>
  <rect x="620.8" y="371.4" width="3" height="8" rx="1.5" fill="#d88c46"/>
  <rect x="620.8" y="385" width="3" height="8" rx="1.5" fill="#5fb08a"/>
  <rect x="620.8" y="398.8" width="3" height="8" rx="1.5" fill="#3560d0"/>
  <rect x="620.8" y="412.4" width="3" height="8" rx="1.5" fill="#d04870"/>
</svg>
<div class="t" style="left:621.2px;top:341.5px;font-size:9.8px;color:#1a1a1a;-webkit-text-stroke:0.15px #1a1a1a">2024-10-19 12:42:00</div>
<div class="t" style="left:629.8px;top:357px;font-size:9.6px;color:#858585">Cloudflare-DNS</div>
<div class="t" style="left:629.8px;top:370.8px;font-size:9.6px;color:#858585">Tencent-DNS</div>
<div class="t" style="left:629.8px;top:384.5px;font-size:9.6px;color:#858585">Google-DNS</div>
<div class="t" style="left:629.8px;top:398.2px;font-size:9.6px;color:#858585">阿里云深圳 | v4</div>
<div class="t" style="left:629.8px;top:411.9px;font-size:9.6px;color:#858585">Ali-DNS</div>
<div class="t" style="left:680px;width:57.7px;text-align:right;top:357px;font-size:9.2px;font-family:'Liberation Mono',monospace;color:#1a1a1a;-webkit-text-stroke:0.12px #1a1a1a">11.226</div>
<div class="t" style="left:680px;width:57.7px;text-align:right;top:370.8px;font-size:9.2px;font-family:'Liberation Mono',monospace;color:#1a1a1a;-webkit-text-stroke:0.12px #1a1a1a">10.667</div>
<div class="t" style="left:680px;width:57.7px;text-align:right;top:384.5px;font-size:9.2px;font-family:'Liberation Mono',monospace;color:#1a1a1a;-webkit-text-stroke:0.12px #1a1a1a">10.545</div>
<div class="t" style="left:680px;width:57.7px;text-align:right;top:398.2px;font-size:9.2px;font-family:'Liberation Mono',monospace;color:#1a1a1a;-webkit-text-stroke:0.12px #1a1a1a">8.298</div>
<div class="t" style="left:680px;width:57.7px;text-align:right;top:411.9px;font-size:9.2px;font-family:'Liberation Mono',monospace;color:#1a1a1a;-webkit-text-stroke:0.12px #1a1a1a">7.709</div>

<!-- legend text -->
<div class="t" style="left:331px;top:475px;font-size:9.5px;color:#3a3a3a">阿里云深圳 | v4</div>
<div class="t" style="left:419.5px;top:475px;font-size:9.5px;color:#3a3a3a">Ali-DNS</div>
<div class="t" style="left:477px;top:475px;font-size:9.5px;color:#3a3a3a">Tencent-DNS</div>
<div class="t" style="left:558px;top:475px;font-size:9.5px;color:#3a3a3a">Cloudflare-DNS</div>
<div class="t" style="left:649px;top:475px;font-size:9.5px;color:#3a3a3a">Google-DNS</div>

<!-- footer -->
<div class="t" style="left:122.5px;top:528.5px;font-size:9.9px;color:#b3b3b3">Find the code on <span style="color:#9c9c9c">GitHub</span></div>
<div class="abs" style="left:198.6px;top:538.6px;width:30.8px;height:1.5px;background:#e6b64a"></div>
<div class="t" style="left:122.5px;top:546px;font-size:9.9px;color:#b8b8b8">© <span style="font-size:10.6px">2020-2024</span></div><div class="t" style="left:190.8px;top:546.3px;font-size:9.6px;color:#b8b8b8">@Hamster1963</div>
</body></html>
